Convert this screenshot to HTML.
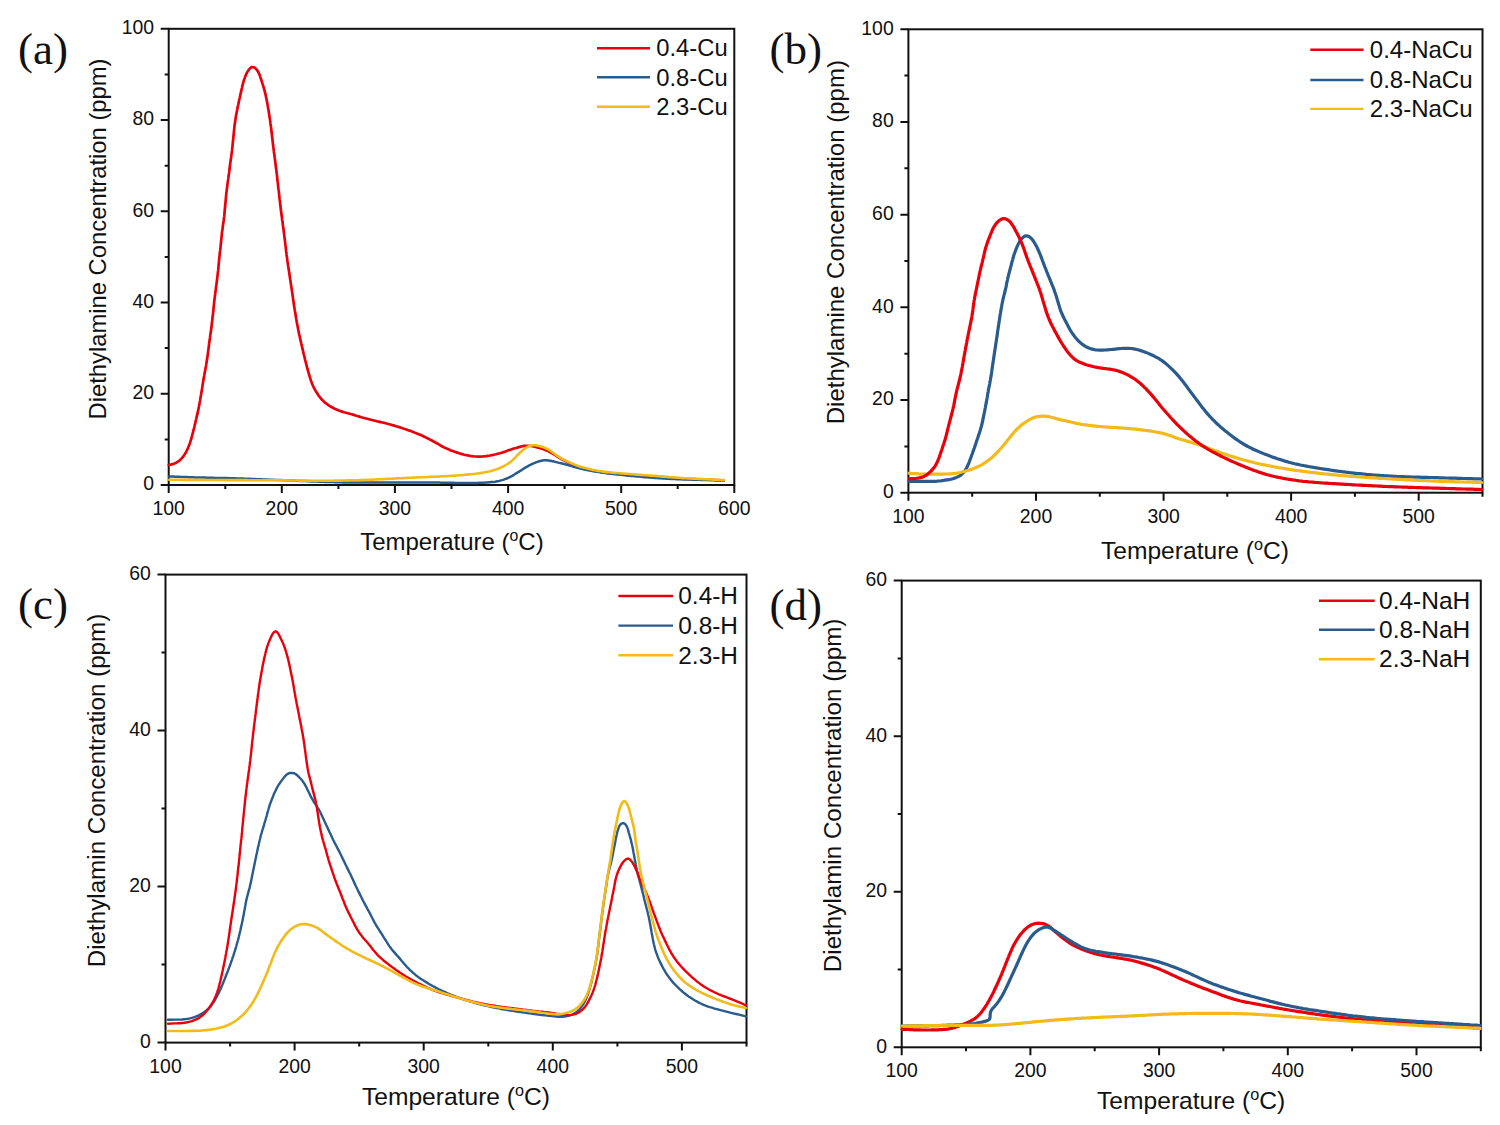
<!DOCTYPE html>
<html><head><meta charset="utf-8"><title>Diethylamine TPD</title>
<style>
html,body{margin:0;padding:0;background:#fff;}
body{width:1500px;height:1125px;overflow:hidden;font-family:"Liberation Sans",sans-serif;}
svg{display:block;}
</style></head>
<body>
<svg width="1500" height="1125" viewBox="0 0 1500 1125">
<rect width="1500" height="1125" fill="#fff"/>
<rect x="168.7" y="28.8" width="565.6" height="456.2" fill="none" stroke="#111111" stroke-width="2.0"/>
<path d="M168.7,485.0V493.0M225.3,485.0V489.0M281.8,485.0V493.0M338.4,485.0V489.0M394.9,485.0V493.0M451.5,485.0V489.0M508.1,485.0V493.0M564.6,485.0V489.0M621.2,485.0V493.0M677.7,485.0V489.0M734.3,485.0V493.0M168.7,485.0H160.7M168.7,439.4H164.7M168.7,393.8H160.7M168.7,348.1H164.7M168.7,302.5H160.7M168.7,256.9H164.7M168.7,211.3H160.7M168.7,165.7H164.7M168.7,120.0H160.7M168.7,74.4H164.7M168.7,28.8H160.7" stroke="#111111" stroke-width="2.0" fill="none"/>
<text x="168.7" y="515.0" font-family='"Liberation Sans", sans-serif' font-size="19.4" text-anchor="middle" fill="#111" >100</text>
<text x="281.8" y="515.0" font-family='"Liberation Sans", sans-serif' font-size="19.4" text-anchor="middle" fill="#111" >200</text>
<text x="394.9" y="515.0" font-family='"Liberation Sans", sans-serif' font-size="19.4" text-anchor="middle" fill="#111" >300</text>
<text x="508.1" y="515.0" font-family='"Liberation Sans", sans-serif' font-size="19.4" text-anchor="middle" fill="#111" >400</text>
<text x="621.2" y="515.0" font-family='"Liberation Sans", sans-serif' font-size="19.4" text-anchor="middle" fill="#111" >500</text>
<text x="734.3" y="515.0" font-family='"Liberation Sans", sans-serif' font-size="19.4" text-anchor="middle" fill="#111" >600</text>
<text x="154.0" y="490.3" font-family='"Liberation Sans", sans-serif' font-size="19.4" text-anchor="end" fill="#111" >0</text>
<text x="154.0" y="399.1" font-family='"Liberation Sans", sans-serif' font-size="19.4" text-anchor="end" fill="#111" >20</text>
<text x="154.0" y="307.8" font-family='"Liberation Sans", sans-serif' font-size="19.4" text-anchor="end" fill="#111" >40</text>
<text x="154.0" y="216.6" font-family='"Liberation Sans", sans-serif' font-size="19.4" text-anchor="end" fill="#111" >60</text>
<text x="154.0" y="125.3" font-family='"Liberation Sans", sans-serif' font-size="19.4" text-anchor="end" fill="#111" >80</text>
<text x="154.0" y="34.1" font-family='"Liberation Sans", sans-serif' font-size="19.4" text-anchor="end" fill="#111" >100</text>
<text x="18.0" y="64.2" font-family='"Liberation Serif", serif' font-size="45.0" text-anchor="start" fill="#111" >(a)</text>
<text x="0" y="0" transform="translate(106.3,239.0) rotate(-90)" font-family='"Liberation Sans", sans-serif' font-size="23.8" text-anchor="middle" fill="#111">Diethylamine Concentration (ppm)</text>
<text x="451.9" y="550.1" font-family='"Liberation Sans", sans-serif' font-size="24.0" text-anchor="middle" fill="#111" >Temperature (<tspan font-size="15.8" dy="-9">o</tspan><tspan dy="9">C)</tspan></text>
<path d="M597.0,48.2H650.0" stroke="#E8000B" stroke-width="2.4"/>
<text x="656.2" y="56.4" font-family='"Liberation Sans", sans-serif' font-size="23.8" text-anchor="start" fill="#111" >0.4-Cu</text>
<path d="M597.0,77.3H650.0" stroke="#2A5B8E" stroke-width="2.4"/>
<text x="656.2" y="85.5" font-family='"Liberation Sans", sans-serif' font-size="23.8" text-anchor="start" fill="#111" >0.8-Cu</text>
<path d="M597.0,106.7H650.0" stroke="#F2BA1A" stroke-width="2.4"/>
<text x="656.2" y="114.9" font-family='"Liberation Sans", sans-serif' font-size="23.8" text-anchor="start" fill="#111" >2.3-Cu</text>
<path d="M168.7,465.0L170.6,464.6L172.6,464.1L174.4,463.5L176.2,462.7L177.9,461.6L179.5,460.5L180.9,459.1L182.3,457.7L183.5,456.1L184.6,454.5L185.7,452.8L186.6,451.0L187.5,449.2L188.3,447.4L189.0,445.5L189.7,443.7L190.3,441.8L190.9,439.9L191.5,438.0L192.0,436.0L192.5,434.1L193.0,432.2L193.5,430.2L194.0,428.3L194.5,426.3L194.9,424.4L195.4,422.4L195.8,420.5L196.3,418.5L196.7,416.6L197.2,414.6L197.7,412.7L198.1,410.7L198.5,408.8L198.9,406.8L199.3,404.9L199.6,402.9L200.0,400.9L200.3,398.9L200.6,397.0L201.0,395.0L201.3,393.0L201.7,391.1L202.0,389.1L202.3,387.1L202.6,385.1L202.9,383.1L203.2,381.2L203.5,379.2L203.9,377.2L204.3,375.3L204.6,373.3L205.0,371.3L205.4,369.4L205.7,367.4L206.1,365.4L206.4,363.4L206.7,361.5L207.0,359.5L207.3,357.5L207.6,355.5L207.9,353.6L208.1,351.6L208.4,349.6L208.7,347.6L208.9,345.6L209.1,343.6L209.4,341.6L209.7,339.7L210.0,337.7L210.2,335.7L210.5,333.7L210.8,331.7L211.1,329.8L211.4,327.8L211.6,325.8L211.8,323.8L212.1,321.8L212.3,319.8L212.5,317.8L212.7,315.9L213.0,313.9L213.2,311.9L213.4,309.9L213.6,307.9L213.8,305.9L214.0,303.9L214.2,301.9L214.4,299.9L214.7,297.9L214.9,296.0L215.2,294.0L215.4,292.0L215.7,290.0L215.9,288.0L216.2,286.0L216.5,284.1L216.7,282.1L217.0,280.1L217.2,278.1L217.5,276.1L217.7,274.1L217.9,272.1L218.2,270.2L218.4,268.2L218.5,266.2L218.7,264.2L218.9,262.2L219.1,260.2L219.3,258.2L219.5,256.2L219.7,254.2L219.9,252.2L220.2,250.2L220.4,248.3L220.6,246.3L220.8,244.3L221.0,242.3L221.2,240.3L221.4,238.3L221.6,236.3L221.8,234.3L222.0,232.3L222.3,230.3L222.6,228.4L222.8,226.4L223.1,224.4L223.4,222.4L223.7,220.4L223.9,218.5L224.2,216.5L224.4,214.5L224.6,212.5L224.7,210.5L224.9,208.5L225.1,206.5L225.3,204.5L225.5,202.5L225.7,200.5L225.9,198.5L226.0,196.6L226.2,194.6L226.4,192.6L226.7,190.6L226.9,188.6L227.2,186.6L227.4,184.6L227.7,182.6L228.0,180.7L228.3,178.7L228.5,176.7L228.8,174.7L229.1,172.7L229.3,170.7L229.6,168.8L229.8,166.8L230.1,164.8L230.3,162.8L230.6,160.8L230.9,158.8L231.2,156.9L231.4,154.9L231.7,152.9L232.0,150.9L232.2,148.9L232.4,146.9L232.6,144.9L232.8,143.0L233.0,141.0L233.2,139.0L233.4,137.0L233.6,135.0L233.8,133.0L234.0,131.0L234.2,129.0L234.4,127.0L234.6,125.0L234.9,123.1L235.2,121.1L235.5,119.1L235.8,117.1L236.1,115.2L236.5,113.2L236.9,111.2L237.3,109.3L237.6,107.3L238.1,105.3L238.5,103.4L238.9,101.4L239.3,99.5L239.8,97.5L240.2,95.6L240.6,93.6L241.1,91.7L241.5,89.7L242.0,87.8L242.4,85.8L242.9,83.9L243.4,81.9L244.0,80.0L244.7,78.1L245.3,76.3L246.1,74.4L247.0,72.6L248.0,70.9L249.1,69.3L250.5,67.8L252.2,67.0L254.0,67.3L255.6,68.5L256.9,69.9L258.0,71.6L258.9,73.3L259.7,75.2L260.3,77.1L261.0,79.0L261.6,80.9L262.2,82.8L262.8,84.7L263.4,86.6L264.0,88.5L264.5,90.4L265.0,92.4L265.5,94.3L265.9,96.3L266.3,98.2L266.7,100.2L267.1,102.2L267.5,104.1L267.8,106.1L268.1,108.1L268.5,110.0L268.8,112.0L269.1,114.0L269.4,116.0L269.7,118.0L270.0,119.9L270.3,121.9L270.5,123.9L270.8,125.9L271.1,127.9L271.3,129.8L271.5,131.8L271.8,133.8L272.0,135.8L272.2,137.8L272.5,139.8L272.7,141.8L272.9,143.8L273.2,145.7L273.4,147.7L273.7,149.7L273.9,151.7L274.2,153.7L274.5,155.7L274.7,157.7L275.0,159.6L275.2,161.6L275.5,163.6L275.7,165.6L276.0,167.6L276.2,169.6L276.5,171.5L276.7,173.5L277.0,175.5L277.2,177.5L277.4,179.5L277.6,181.5L277.9,183.5L278.1,185.5L278.3,187.5L278.5,189.4L278.8,191.4L279.0,193.4L279.2,195.4L279.4,197.4L279.6,199.4L279.9,201.4L280.1,203.4L280.3,205.3L280.6,207.3L280.8,209.3L281.1,211.3L281.3,213.3L281.6,215.3L281.9,217.3L282.1,219.2L282.4,221.2L282.7,223.2L282.9,225.2L283.2,227.2L283.5,229.2L283.7,231.1L284.0,233.1L284.2,235.1L284.5,237.1L284.7,239.1L285.0,241.1L285.2,243.1L285.4,245.0L285.7,247.0L285.9,249.0L286.1,251.0L286.4,253.0L286.6,255.0L286.9,257.0L287.2,258.9L287.4,260.9L287.7,262.9L288.0,264.9L288.3,266.9L288.6,268.8L288.9,270.8L289.2,272.8L289.5,274.8L289.8,276.8L290.1,278.7L290.4,280.7L290.7,282.7L291.0,284.7L291.3,286.6L291.6,288.6L291.9,290.6L292.2,292.6L292.5,294.6L292.8,296.5L293.0,298.5L293.3,300.5L293.6,302.5L293.9,304.5L294.2,306.4L294.5,308.4L294.8,310.4L295.2,312.4L295.5,314.3L295.8,316.3L296.1,318.3L296.5,320.3L296.8,322.2L297.2,324.2L297.6,326.2L297.9,328.1L298.3,330.1L298.7,332.1L299.1,334.0L299.6,336.0L300.0,337.9L300.4,339.9L300.9,341.8L301.3,343.8L301.8,345.7L302.2,347.7L302.7,349.6L303.2,351.6L303.6,353.5L304.1,355.5L304.6,357.4L305.0,359.3L305.5,361.3L306.0,363.2L306.5,365.2L307.0,367.1L307.5,369.0L308.1,371.0L308.6,372.9L309.2,374.8L309.7,376.7L310.3,378.6L310.9,380.5L311.6,382.4L312.3,384.3L313.1,386.1L314.0,387.9L314.9,389.7L315.9,391.4L317.0,393.1L318.1,394.8L319.2,396.4L320.5,398.0L321.8,399.5L323.2,400.9L324.6,402.3L326.2,403.5L327.8,404.7L329.4,405.8L331.1,406.8L332.9,407.8L334.7,408.7L336.5,409.5L338.3,410.3L340.2,411.0L342.1,411.6L344.0,412.2L345.9,412.7L347.9,413.2L349.8,413.8L351.7,414.3L353.7,414.9L355.6,415.5L357.5,416.0L359.4,416.6L361.3,417.2L363.2,417.7L365.2,418.3L367.1,418.8L369.0,419.3L371.0,419.8L372.9,420.2L374.9,420.7L376.8,421.2L378.8,421.6L380.7,422.1L382.7,422.5L384.6,423.0L386.6,423.5L388.5,424.0L390.4,424.5L392.3,425.1L394.3,425.6L396.2,426.2L398.1,426.8L400.0,427.4L401.9,428.0L403.8,428.7L405.7,429.3L407.6,430.0L409.5,430.6L411.3,431.3L413.2,432.0L415.1,432.8L416.9,433.5L418.8,434.2L420.6,435.0L422.5,435.8L424.3,436.7L426.1,437.6L427.9,438.5L429.6,439.4L431.4,440.3L433.2,441.3L434.9,442.2L436.7,443.2L438.4,444.2L440.1,445.2L441.9,446.2L443.6,447.1L445.4,448.0L447.2,448.8L449.1,449.6L450.9,450.4L452.8,451.1L454.7,451.8L456.6,452.4L458.5,453.0L460.4,453.6L462.3,454.1L464.3,454.7L466.2,455.1L468.2,455.5L470.1,455.9L472.1,456.2L474.1,456.4L476.1,456.5L478.1,456.6L480.1,456.6L482.1,456.5L484.0,456.3L486.0,456.1L488.0,455.8L490.0,455.5L492.0,455.1L493.9,454.7L495.9,454.3L497.8,453.8L499.7,453.3L501.7,452.7L503.6,452.1L505.5,451.5L507.3,450.8L509.2,450.1L511.1,449.5L513.0,448.8L514.9,448.2L516.8,447.7L518.8,447.1L520.7,446.6L522.6,446.2L524.6,445.9L526.6,445.8L528.6,445.8L530.5,446.0L532.5,446.2L534.5,446.6L536.4,447.1L538.3,447.6L540.3,448.2L542.2,448.8L544.1,449.4L545.9,450.2L547.8,450.9L549.5,451.8L551.3,452.8L553.0,453.8L554.7,454.9L556.4,455.9L558.1,457.0L559.8,458.0L561.5,459.0L563.3,460.0L565.1,460.9L566.8,461.8L568.6,462.7L570.4,463.5L572.3,464.4L574.1,465.2L576.0,465.9L577.8,466.6L579.7,467.3L581.6,467.9L583.5,468.4L585.5,468.9L587.4,469.4L589.4,469.8L591.3,470.3L593.3,470.7L595.3,471.0L597.2,471.4L599.2,471.7L601.2,472.0L603.1,472.4L605.1,472.6L607.1,472.9L609.1,473.2L611.1,473.4L613.1,473.6L615.1,473.8L617.1,474.0L619.0,474.2L621.0,474.3L623.0,474.5L625.0,474.7L627.0,474.8L629.0,475.0L631.0,475.1L633.0,475.3L635.0,475.4L637.0,475.5L639.0,475.7L641.0,475.8L643.0,475.9L645.0,476.1L647.0,476.2L649.0,476.3L651.0,476.4L653.0,476.6L655.0,476.7L657.0,476.9L659.0,477.0L661.0,477.1L663.0,477.3L665.0,477.4L667.0,477.6L668.9,477.7L670.9,477.8L672.9,478.0L674.9,478.1L676.9,478.2L678.9,478.4L680.9,478.5L682.9,478.6L684.9,478.7L686.9,478.8L688.9,478.9L690.9,479.0L692.9,479.1L694.9,479.2L696.9,479.3L698.9,479.4L700.9,479.5L702.9,479.6L704.9,479.7L706.9,479.7L708.9,479.8L710.9,479.9L712.9,480.0L714.9,480.1L716.9,480.2L718.9,480.3L720.9,480.4L722.9,480.5L723.9,480.5" fill="none" stroke="#E8000B" stroke-width="2.7" stroke-linejoin="round" stroke-linecap="round"/>
<path d="M169.0,476.5L171.0,476.6L173.0,476.6L175.0,476.7L177.0,476.8L179.0,476.8L181.0,476.9L183.0,477.0L185.0,477.0L187.0,477.1L189.0,477.2L191.0,477.2L193.0,477.3L195.0,477.4L197.0,477.4L199.0,477.5L201.0,477.5L203.0,477.6L205.0,477.6L207.0,477.7L209.0,477.7L211.0,477.8L213.0,477.8L215.0,477.9L217.1,477.9L219.1,477.9L221.1,478.0L223.1,478.0L225.1,478.1L227.1,478.1L229.1,478.2L231.1,478.2L233.1,478.3L235.1,478.3L237.1,478.4L239.1,478.5L241.1,478.5L243.1,478.6L245.1,478.7L247.1,478.8L249.1,478.8L251.1,478.9L253.1,479.0L255.1,479.1L257.1,479.2L259.1,479.2L261.1,479.3L263.1,479.4L265.1,479.5L267.1,479.6L269.1,479.7L271.1,479.7L273.1,479.8L275.1,479.9L277.1,480.0L279.1,480.1L281.1,480.1L283.1,480.2L285.1,480.3L287.1,480.4L289.1,480.5L291.1,480.5L293.1,480.6L295.1,480.7L297.1,480.8L299.1,480.9L301.1,481.0L303.1,481.0L305.1,481.1L307.1,481.2L309.1,481.3L311.1,481.4L313.1,481.5L315.1,481.5L317.1,481.6L319.1,481.7L321.1,481.8L323.1,481.8L325.1,481.9L327.1,482.0L329.1,482.0L331.1,482.1L333.1,482.1L335.1,482.2L337.2,482.2L339.2,482.3L341.2,482.3L343.2,482.4L345.2,482.4L347.2,482.4L349.2,482.4L351.2,482.5L353.2,482.5L355.2,482.5L357.2,482.5L359.2,482.5L361.2,482.5L363.2,482.6L365.2,482.6L367.2,482.6L369.2,482.6L371.2,482.6L373.2,482.6L375.2,482.6L377.2,482.6L379.2,482.6L381.2,482.6L383.2,482.6L385.2,482.6L387.2,482.6L389.2,482.6L391.2,482.6L393.2,482.6L395.2,482.6L397.2,482.6L399.2,482.6L401.2,482.6L403.2,482.5L405.3,482.5L407.3,482.5L409.3,482.5L411.3,482.5L413.3,482.5L415.3,482.5L417.3,482.5L419.3,482.5L421.3,482.5L423.3,482.5L425.3,482.5L427.3,482.5L429.3,482.5L431.3,482.6L433.3,482.6L435.3,482.6L437.3,482.6L439.3,482.6L441.3,482.7L443.3,482.7L445.3,482.7L447.3,482.8L449.3,482.8L451.3,482.8L453.3,482.8L455.3,482.9L457.3,482.9L459.3,482.9L461.3,482.9L463.3,482.9L465.3,482.9L467.3,482.9L469.3,482.9L471.3,482.9L473.3,482.9L475.4,482.9L477.4,482.9L479.4,482.8L481.4,482.8L483.4,482.7L485.4,482.6L487.4,482.5L489.4,482.3L491.4,482.1L493.3,481.9L495.3,481.7L497.3,481.3L499.3,480.9L501.2,480.4L503.1,479.9L505.0,479.2L506.8,478.5L508.7,477.7L510.4,476.8L512.2,475.8L513.9,474.8L515.6,473.7L517.3,472.7L519.0,471.6L520.7,470.6L522.4,469.5L524.1,468.4L525.8,467.4L527.6,466.4L529.3,465.4L531.1,464.5L532.9,463.7L534.8,462.9L536.6,462.1L538.5,461.5L540.4,460.9L542.4,460.5L544.4,460.3L546.4,460.3L548.4,460.5L550.3,460.8L552.3,461.2L554.3,461.6L556.2,462.1L558.2,462.6L560.1,463.0L562.0,463.5L564.0,464.0L565.9,464.5L567.9,465.0L569.8,465.6L571.7,466.1L573.6,466.7L575.6,467.2L577.5,467.8L579.4,468.3L581.4,468.8L583.3,469.3L585.3,469.7L587.2,470.1L589.2,470.5L591.2,470.8L593.1,471.2L595.1,471.5L597.1,471.8L599.1,472.1L601.1,472.4L603.0,472.6L605.0,472.9L607.0,473.2L609.0,473.4L611.0,473.7L613.0,473.9L615.0,474.1L617.0,474.4L619.0,474.6L620.9,474.8L622.9,475.0L624.9,475.2L626.9,475.5L628.9,475.7L630.9,475.9L632.9,476.1L634.9,476.3L636.9,476.5L638.9,476.6L640.9,476.8L642.9,477.0L644.9,477.2L646.9,477.3L648.9,477.5L650.9,477.6L652.9,477.8L654.8,477.9L656.8,478.1L658.8,478.2L660.8,478.3L662.8,478.5L664.8,478.6L666.8,478.7L668.8,478.8L670.8,478.9L672.8,479.0L674.8,479.1L676.8,479.2L678.8,479.2L680.8,479.3L682.9,479.4L684.9,479.4L686.9,479.5L688.9,479.6L690.9,479.6L692.9,479.7L694.9,479.7L696.9,479.8L698.9,479.8L700.9,479.9L702.9,479.9L704.9,479.9L706.9,480.0L708.9,480.0L710.9,480.1L712.9,480.1L714.9,480.2L716.9,480.2L718.9,480.3L720.9,480.3L722.9,480.4L723.9,480.4" fill="none" stroke="#2A5B8E" stroke-width="2.5" stroke-linejoin="round" stroke-linecap="round"/>
<path d="M169.0,479.8L171.0,479.8L173.0,479.8L175.0,479.8L177.0,479.8L179.0,479.8L181.0,479.9L183.0,479.9L185.0,479.9L187.0,479.9L189.0,479.9L191.0,479.9L193.0,479.9L195.0,479.9L197.0,479.9L199.0,479.9L201.0,479.9L203.1,480.0L205.1,480.0L207.1,480.0L209.1,480.0L211.1,480.0L213.1,480.0L215.1,480.0L217.1,480.0L219.1,480.0L221.1,480.0L223.1,480.0L225.1,480.1L227.1,480.1L229.1,480.1L231.1,480.1L233.1,480.1L235.1,480.1L237.1,480.1L239.1,480.1L241.1,480.1L243.1,480.1L245.1,480.1L247.1,480.1L249.1,480.2L251.1,480.2L253.1,480.2L255.1,480.2L257.1,480.2L259.1,480.2L261.1,480.2L263.1,480.2L265.1,480.2L267.1,480.2L269.2,480.3L271.2,480.3L273.2,480.3L275.2,480.3L277.2,480.3L279.2,480.3L281.2,480.4L283.2,480.4L285.2,480.4L287.2,480.4L289.2,480.5L291.2,480.5L293.2,480.5L295.2,480.5L297.2,480.5L299.2,480.6L301.2,480.6L303.2,480.6L305.2,480.6L307.2,480.6L309.2,480.6L311.2,480.7L313.2,480.7L315.2,480.7L317.2,480.7L319.2,480.7L321.2,480.7L323.2,480.7L325.2,480.7L327.2,480.7L329.2,480.7L331.2,480.7L333.2,480.7L335.3,480.6L337.3,480.6L339.3,480.6L341.3,480.6L343.3,480.5L345.3,480.5L347.3,480.4L349.3,480.4L351.3,480.3L353.3,480.3L355.3,480.2L357.3,480.2L359.3,480.1L361.3,480.0L363.3,480.0L365.3,479.9L367.3,479.8L369.3,479.7L371.3,479.7L373.3,479.6L375.3,479.5L377.3,479.4L379.3,479.3L381.3,479.2L383.3,479.1L385.3,479.0L387.3,478.9L389.3,478.8L391.3,478.7L393.3,478.6L395.3,478.5L397.3,478.4L399.3,478.3L401.3,478.2L403.3,478.1L405.3,478.0L407.3,477.9L409.3,477.8L411.3,477.7L413.3,477.6L415.3,477.5L417.3,477.4L419.3,477.3L421.3,477.2L423.3,477.2L425.3,477.1L427.3,477.0L429.3,476.9L431.3,476.8L433.3,476.7L435.3,476.7L437.3,476.6L439.3,476.5L441.3,476.4L443.3,476.3L445.3,476.2L447.3,476.1L449.3,476.0L451.3,475.9L453.3,475.8L455.3,475.6L457.3,475.5L459.3,475.3L461.3,475.2L463.3,475.0L465.3,474.8L467.3,474.6L469.3,474.4L471.3,474.2L473.3,474.0L475.3,473.8L477.3,473.5L479.2,473.2L481.2,472.9L483.2,472.6L485.2,472.2L487.1,471.8L489.1,471.4L491.0,470.9L492.9,470.4L494.9,469.8L496.7,469.2L498.6,468.5L500.5,467.7L502.3,466.9L504.1,466.0L505.8,465.0L507.5,464.0L509.2,462.9L510.8,461.7L512.3,460.4L513.7,459.0L515.2,457.6L516.5,456.1L517.9,454.7L519.3,453.3L520.8,451.9L522.3,450.6L523.8,449.3L525.4,448.1L527.1,447.1L528.9,446.2L530.8,445.6L532.8,445.3L534.8,445.3L536.8,445.5L538.7,445.9L540.7,446.4L542.6,447.0L544.4,447.7L546.3,448.5L548.1,449.4L549.8,450.4L551.4,451.5L553.1,452.7L554.7,453.9L556.3,455.1L557.9,456.2L559.6,457.3L561.3,458.3L563.1,459.3L564.9,460.2L566.7,461.1L568.5,462.0L570.3,462.8L572.1,463.6L574.0,464.4L575.8,465.1L577.7,465.8L579.6,466.4L581.5,467.0L583.4,467.6L585.4,468.1L587.3,468.6L589.3,469.1L591.2,469.5L593.2,469.9L595.1,470.3L597.1,470.7L599.1,471.0L601.1,471.3L603.0,471.6L605.0,471.9L607.0,472.1L609.0,472.3L611.0,472.5L613.0,472.7L615.0,472.9L617.0,473.0L619.0,473.2L621.0,473.4L623.0,473.5L625.0,473.7L627.0,473.8L629.0,474.0L631.0,474.2L633.0,474.3L635.0,474.5L636.9,474.6L638.9,474.7L640.9,474.9L642.9,475.0L644.9,475.2L646.9,475.3L648.9,475.5L650.9,475.6L652.9,475.8L654.9,475.9L656.9,476.1L658.9,476.3L660.9,476.4L662.9,476.6L664.9,476.8L666.9,476.9L668.9,477.1L670.9,477.2L672.9,477.4L674.9,477.5L676.9,477.7L678.9,477.8L680.9,478.0L682.9,478.1L684.9,478.2L686.9,478.3L688.9,478.4L690.9,478.5L692.9,478.6L694.9,478.7L696.9,478.8L698.9,478.9L700.9,479.0L702.9,479.1L704.9,479.2L706.9,479.3L708.9,479.4L710.9,479.5L712.9,479.6L714.9,479.7L716.9,479.8L718.9,479.9L720.9,480.0L722.9,480.1L723.9,480.1" fill="none" stroke="#F2BA1A" stroke-width="2.6" stroke-linejoin="round" stroke-linecap="round"/>
<rect x="908.4" y="29.3" width="574.1" height="463.4" fill="none" stroke="#111111" stroke-width="2.0"/>
<path d="M908.4,492.7V500.7M972.2,492.7V496.7M1036.0,492.7V500.7M1099.8,492.7V496.7M1163.6,492.7V500.7M1227.3,492.7V496.7M1291.1,492.7V500.7M1354.9,492.7V496.7M1418.7,492.7V500.7M1482.5,492.7V496.7M908.4,492.7H900.4M908.4,446.4H904.4M908.4,400.0H900.4M908.4,353.7H904.4M908.4,307.3H900.4M908.4,261.0H904.4M908.4,214.7H900.4M908.4,168.3H904.4M908.4,122.0H900.4M908.4,75.6H904.4M908.4,29.3H900.4" stroke="#111111" stroke-width="2.0" fill="none"/>
<text x="908.4" y="522.7" font-family='"Liberation Sans", sans-serif' font-size="19.4" text-anchor="middle" fill="#111" >100</text>
<text x="1036.0" y="522.7" font-family='"Liberation Sans", sans-serif' font-size="19.4" text-anchor="middle" fill="#111" >200</text>
<text x="1163.6" y="522.7" font-family='"Liberation Sans", sans-serif' font-size="19.4" text-anchor="middle" fill="#111" >300</text>
<text x="1291.1" y="522.7" font-family='"Liberation Sans", sans-serif' font-size="19.4" text-anchor="middle" fill="#111" >400</text>
<text x="1418.7" y="522.7" font-family='"Liberation Sans", sans-serif' font-size="19.4" text-anchor="middle" fill="#111" >500</text>
<text x="893.7" y="498.0" font-family='"Liberation Sans", sans-serif' font-size="19.4" text-anchor="end" fill="#111" >0</text>
<text x="893.7" y="405.3" font-family='"Liberation Sans", sans-serif' font-size="19.4" text-anchor="end" fill="#111" >20</text>
<text x="893.7" y="312.6" font-family='"Liberation Sans", sans-serif' font-size="19.4" text-anchor="end" fill="#111" >40</text>
<text x="893.7" y="220.0" font-family='"Liberation Sans", sans-serif' font-size="19.4" text-anchor="end" fill="#111" >60</text>
<text x="893.7" y="127.3" font-family='"Liberation Sans", sans-serif' font-size="19.4" text-anchor="end" fill="#111" >80</text>
<text x="893.7" y="34.6" font-family='"Liberation Sans", sans-serif' font-size="19.4" text-anchor="end" fill="#111" >100</text>
<text x="769.5" y="64.2" font-family='"Liberation Serif", serif' font-size="45.0" text-anchor="start" fill="#111" >(b)</text>
<text x="0" y="0" transform="translate(843.8,242.2) rotate(-90)" font-family='"Liberation Sans", sans-serif' font-size="24.0" text-anchor="middle" fill="#111">Diethylamine Concentration (ppm)</text>
<text x="1195.0" y="558.6" font-family='"Liberation Sans", sans-serif' font-size="24.6" text-anchor="middle" fill="#111" >Temperature (<tspan font-size="16.2" dy="-9">o</tspan><tspan dy="9">C)</tspan></text>
<path d="M1310.3,49.7H1363.5" stroke="#E8000B" stroke-width="2.4"/>
<text x="1369.8" y="57.9" font-family='"Liberation Sans", sans-serif' font-size="24.0" text-anchor="start" fill="#111" >0.4-NaCu</text>
<path d="M1310.3,80.0H1363.5" stroke="#2A5B8E" stroke-width="2.4"/>
<text x="1369.8" y="88.2" font-family='"Liberation Sans", sans-serif' font-size="24.0" text-anchor="start" fill="#111" >0.8-NaCu</text>
<path d="M1310.3,108.9H1363.5" stroke="#F2BA1A" stroke-width="2.4"/>
<text x="1369.8" y="117.1" font-family='"Liberation Sans", sans-serif' font-size="24.0" text-anchor="start" fill="#111" >2.3-NaCu</text>
<path d="M909.0,481.3L911.0,481.3L913.0,481.3L915.0,481.3L917.0,481.3L919.0,481.3L921.0,481.3L923.0,481.3L925.0,481.3L927.0,481.4L929.0,481.4L931.0,481.4L933.0,481.4L935.0,481.3L937.0,481.2L939.0,481.0L941.0,480.8L942.9,480.5L944.9,480.2L946.9,479.9L948.9,479.6L950.8,479.2L952.8,478.7L954.7,478.1L956.5,477.4L958.3,476.6L960.0,475.6L961.6,474.4L963.0,473.1L964.2,471.6L965.4,470.0L966.4,468.3L967.3,466.5L968.1,464.7L968.9,462.8L969.6,461.0L970.3,459.1L971.0,457.2L971.7,455.3L972.4,453.5L973.0,451.6L973.7,449.7L974.4,447.8L975.0,445.9L975.7,444.0L976.3,442.1L976.9,440.2L977.6,438.3L978.2,436.4L978.8,434.5L979.5,432.6L980.1,430.7L980.6,428.8L981.2,426.9L981.7,425.0L982.2,423.0L982.6,421.1L983.0,419.1L983.4,417.1L983.8,415.2L984.2,413.2L984.6,411.3L985.0,409.3L985.4,407.3L985.7,405.4L986.1,403.4L986.5,401.4L986.8,399.5L987.2,397.5L987.5,395.5L987.8,393.6L988.2,391.6L988.5,389.6L988.9,387.7L989.3,385.7L989.7,383.7L990.0,381.8L990.4,379.8L990.7,377.8L991.1,375.9L991.4,373.9L991.7,371.9L991.9,369.9L992.2,367.9L992.5,366.0L992.8,364.0L993.1,362.0L993.4,360.0L993.7,358.0L994.0,356.1L994.3,354.1L994.6,352.1L994.9,350.1L995.2,348.2L995.5,346.2L995.8,344.2L996.1,342.2L996.4,340.2L996.7,338.3L997.0,336.3L997.3,334.3L997.5,332.3L997.8,330.4L998.1,328.4L998.4,326.4L998.7,324.4L999.0,322.4L999.3,320.5L999.6,318.5L999.9,316.5L1000.2,314.5L1000.6,312.6L1000.9,310.6L1001.2,308.6L1001.6,306.6L1001.9,304.7L1002.3,302.7L1002.7,300.8L1003.1,298.8L1003.6,296.9L1004.1,294.9L1004.6,293.0L1005.1,291.0L1005.5,289.1L1006.0,287.1L1006.4,285.2L1006.7,283.2L1007.1,281.3L1007.6,279.3L1008.0,277.4L1008.5,275.4L1009.0,273.5L1009.5,271.5L1010.0,269.6L1010.5,267.7L1011.0,265.8L1011.5,263.8L1012.0,261.9L1012.6,259.9L1013.1,258.0L1013.6,256.1L1014.2,254.2L1014.9,252.3L1015.6,250.4L1016.3,248.6L1017.1,246.7L1017.9,244.9L1018.8,243.1L1019.7,241.4L1020.8,239.7L1022.1,238.2L1023.6,236.9L1025.3,235.9L1027.2,235.9L1029.0,236.6L1030.6,237.8L1032.0,239.2L1033.2,240.8L1034.3,242.5L1035.3,244.2L1036.3,245.9L1037.2,247.7L1038.0,249.5L1038.8,251.4L1039.6,253.2L1040.4,255.1L1041.1,256.9L1041.8,258.8L1042.5,260.7L1043.2,262.5L1043.9,264.4L1044.6,266.3L1045.4,268.1L1046.1,270.0L1046.8,271.9L1047.6,273.7L1048.3,275.6L1049.1,277.4L1049.9,279.3L1050.6,281.1L1051.4,283.0L1052.1,284.8L1052.9,286.7L1053.6,288.5L1054.3,290.4L1054.9,292.3L1055.6,294.2L1056.2,296.1L1056.8,298.0L1057.4,299.9L1057.9,301.8L1058.5,303.8L1059.1,305.7L1059.6,307.6L1060.3,309.5L1060.9,311.4L1061.7,313.2L1062.5,315.0L1063.3,316.8L1064.2,318.6L1065.1,320.4L1066.1,322.2L1067.0,324.0L1067.9,325.8L1068.8,327.5L1069.8,329.3L1070.8,331.0L1071.9,332.7L1073.0,334.3L1074.2,335.9L1075.4,337.5L1076.7,339.0L1078.0,340.5L1079.5,341.9L1081.0,343.2L1082.5,344.4L1084.2,345.6L1085.9,346.6L1087.6,347.5L1089.5,348.3L1091.3,348.9L1093.2,349.4L1095.2,349.8L1097.2,350.0L1099.2,350.1L1101.1,350.2L1103.1,350.1L1105.1,350.0L1107.1,349.8L1109.1,349.7L1111.1,349.5L1113.1,349.3L1115.1,349.1L1117.1,348.9L1119.1,348.7L1121.1,348.5L1123.1,348.4L1125.1,348.3L1127.0,348.3L1129.0,348.3L1131.0,348.5L1133.0,348.7L1135.0,349.1L1136.9,349.5L1138.8,350.0L1140.8,350.6L1142.7,351.2L1144.5,351.9L1146.4,352.6L1148.3,353.4L1150.1,354.2L1151.9,355.0L1153.7,355.8L1155.5,356.8L1157.2,357.7L1159.0,358.7L1160.7,359.8L1162.3,360.9L1163.9,362.1L1165.5,363.3L1167.0,364.6L1168.5,365.9L1170.0,367.3L1171.4,368.6L1172.9,370.1L1174.3,371.5L1175.6,372.9L1177.0,374.4L1178.3,375.9L1179.6,377.4L1180.9,379.0L1182.1,380.5L1183.4,382.1L1184.6,383.7L1185.8,385.3L1187.0,386.9L1188.1,388.5L1189.3,390.1L1190.5,391.7L1191.7,393.3L1192.9,394.9L1194.1,396.5L1195.3,398.1L1196.5,399.7L1197.7,401.3L1198.9,402.9L1200.1,404.5L1201.3,406.1L1202.5,407.7L1203.8,409.3L1205.0,410.8L1206.3,412.4L1207.6,413.9L1208.9,415.4L1210.3,416.9L1211.7,418.3L1213.1,419.8L1214.5,421.2L1215.9,422.6L1217.3,424.0L1218.8,425.3L1220.3,426.7L1221.8,428.0L1223.3,429.3L1224.8,430.6L1226.4,431.8L1228.0,433.1L1229.5,434.3L1231.1,435.5L1232.7,436.7L1234.3,437.9L1235.9,439.1L1237.6,440.2L1239.2,441.3L1240.9,442.4L1242.6,443.5L1244.3,444.5L1246.1,445.5L1247.8,446.5L1249.6,447.4L1251.4,448.3L1253.2,449.2L1255.0,450.0L1256.8,450.8L1258.7,451.6L1260.5,452.4L1262.4,453.1L1264.2,453.9L1266.1,454.6L1267.9,455.3L1269.8,456.0L1271.7,456.7L1273.6,457.4L1275.5,458.0L1277.4,458.7L1279.3,459.3L1281.2,459.9L1283.1,460.5L1285.0,461.1L1286.9,461.6L1288.8,462.2L1290.8,462.7L1292.7,463.2L1294.7,463.7L1296.6,464.1L1298.5,464.5L1300.5,465.0L1302.5,465.3L1304.4,465.7L1306.4,466.1L1308.4,466.5L1310.3,466.8L1312.3,467.2L1314.3,467.5L1316.2,467.8L1318.2,468.2L1320.2,468.5L1322.2,468.8L1324.1,469.1L1326.1,469.4L1328.1,469.7L1330.1,470.0L1332.1,470.3L1334.0,470.6L1336.0,470.9L1338.0,471.2L1340.0,471.4L1342.0,471.7L1343.9,471.9L1345.9,472.2L1347.9,472.4L1349.9,472.7L1351.9,472.9L1353.9,473.1L1355.9,473.3L1357.8,473.5L1359.8,473.7L1361.8,473.9L1363.8,474.1L1365.8,474.3L1367.8,474.5L1369.8,474.6L1371.8,474.8L1373.8,475.0L1375.8,475.1L1377.8,475.3L1379.8,475.4L1381.8,475.5L1383.8,475.7L1385.8,475.8L1387.8,475.9L1389.7,476.1L1391.7,476.2L1393.7,476.3L1395.7,476.4L1397.7,476.5L1399.7,476.6L1401.7,476.7L1403.7,476.7L1405.7,476.8L1407.7,476.9L1409.7,476.9L1411.7,477.0L1413.7,477.1L1415.7,477.1L1417.7,477.2L1419.7,477.2L1421.7,477.3L1423.7,477.3L1425.7,477.4L1427.7,477.4L1429.7,477.5L1431.7,477.5L1433.7,477.6L1435.7,477.7L1437.7,477.7L1439.7,477.8L1441.7,477.8L1443.7,477.9L1445.7,478.0L1447.7,478.0L1449.7,478.1L1451.7,478.1L1453.7,478.2L1455.7,478.2L1457.7,478.3L1459.7,478.4L1461.7,478.4L1463.7,478.5L1465.7,478.5L1467.7,478.6L1469.7,478.7L1471.7,478.7L1473.7,478.8L1475.7,478.8L1477.7,478.9L1479.7,478.9L1481.7,479.0" fill="none" stroke="#2A5B8E" stroke-width="3.2" stroke-linejoin="round" stroke-linecap="round"/>
<path d="M909.0,473.2L911.0,473.3L913.0,473.5L915.0,473.6L917.0,473.7L919.0,473.9L921.0,474.0L923.0,474.0L925.0,474.1L927.0,474.2L929.0,474.2L931.0,474.2L933.0,474.2L935.0,474.2L937.0,474.2L939.0,474.2L941.0,474.1L943.0,474.1L945.0,474.0L947.0,474.0L949.0,473.9L951.0,473.8L953.0,473.6L955.0,473.4L957.0,473.1L958.9,472.7L960.9,472.2L962.8,471.8L964.8,471.3L966.7,470.7L968.6,470.2L970.5,469.6L972.4,469.0L974.3,468.3L976.1,467.5L978.0,466.7L979.7,465.8L981.5,464.8L983.2,463.8L984.9,462.8L986.6,461.6L988.2,460.5L989.8,459.2L991.3,458.0L992.8,456.6L994.3,455.3L995.7,453.9L997.1,452.4L998.5,451.0L999.8,449.5L1001.2,448.0L1002.5,446.5L1003.8,445.0L1005.1,443.4L1006.3,441.9L1007.5,440.3L1008.8,438.7L1010.0,437.2L1011.3,435.6L1012.6,434.1L1013.8,432.5L1015.2,431.0L1016.6,429.6L1018.0,428.2L1019.5,426.8L1021.0,425.5L1022.5,424.3L1024.1,423.1L1025.8,422.0L1027.5,420.9L1029.2,419.8L1030.9,418.9L1032.7,418.0L1034.6,417.4L1036.5,416.8L1038.5,416.5L1040.5,416.3L1042.5,416.2L1044.5,416.2L1046.5,416.4L1048.5,416.7L1050.4,417.0L1052.4,417.5L1054.3,418.0L1056.2,418.6L1058.2,419.1L1060.1,419.6L1062.1,420.1L1064.0,420.5L1066.0,420.9L1067.9,421.4L1069.9,421.8L1071.8,422.3L1073.8,422.7L1075.7,423.2L1077.7,423.6L1079.6,424.0L1081.6,424.4L1083.6,424.7L1085.6,424.9L1087.6,425.2L1089.5,425.4L1091.5,425.7L1093.5,425.9L1095.5,426.1L1097.5,426.3L1099.5,426.5L1101.5,426.6L1103.5,426.8L1105.5,427.0L1107.5,427.1L1109.5,427.2L1111.5,427.4L1113.5,427.5L1115.5,427.6L1117.5,427.7L1119.5,427.8L1121.5,428.0L1123.5,428.1L1125.5,428.3L1127.5,428.4L1129.5,428.6L1131.5,428.8L1133.5,429.0L1135.4,429.2L1137.4,429.4L1139.4,429.6L1141.4,429.9L1143.4,430.1L1145.4,430.4L1147.4,430.6L1149.4,430.9L1151.3,431.2L1153.3,431.5L1155.3,431.8L1157.3,432.2L1159.2,432.6L1161.2,433.0L1163.1,433.4L1165.1,434.0L1167.0,434.6L1168.9,435.2L1170.8,435.8L1172.6,436.5L1174.5,437.2L1176.4,437.9L1178.3,438.5L1180.2,439.2L1182.1,439.7L1184.0,440.3L1186.0,440.9L1187.9,441.4L1189.8,442.0L1191.7,442.6L1193.6,443.1L1195.6,443.7L1197.5,444.3L1199.4,444.9L1201.3,445.6L1203.2,446.2L1205.0,446.9L1206.9,447.6L1208.8,448.3L1210.7,449.0L1212.5,449.7L1214.4,450.5L1216.3,451.1L1218.2,451.8L1220.1,452.5L1221.9,453.2L1223.8,453.8L1225.7,454.4L1227.6,455.1L1229.6,455.7L1231.5,456.3L1233.4,456.9L1235.3,457.5L1237.2,458.0L1239.1,458.6L1241.0,459.2L1243.0,459.7L1244.9,460.3L1246.8,460.8L1248.8,461.3L1250.7,461.8L1252.6,462.3L1254.6,462.8L1256.5,463.2L1258.5,463.7L1260.5,464.1L1262.4,464.5L1264.4,464.9L1266.3,465.3L1268.3,465.7L1270.3,466.0L1272.2,466.4L1274.2,466.8L1276.2,467.1L1278.2,467.5L1280.1,467.8L1282.1,468.2L1284.1,468.5L1286.1,468.8L1288.0,469.1L1290.0,469.5L1292.0,469.8L1294.0,470.1L1295.9,470.4L1297.9,470.6L1299.9,470.9L1301.9,471.2L1303.9,471.5L1305.9,471.7L1307.9,472.0L1309.8,472.2L1311.8,472.5L1313.8,472.7L1315.8,472.9L1317.8,473.1L1319.8,473.4L1321.8,473.6L1323.8,473.8L1325.8,474.0L1327.8,474.2L1329.7,474.4L1331.7,474.6L1333.7,474.8L1335.7,474.9L1337.7,475.1L1339.7,475.3L1341.7,475.5L1343.7,475.7L1345.7,475.8L1347.7,476.0L1349.7,476.2L1351.7,476.3L1353.7,476.5L1355.7,476.6L1357.7,476.8L1359.7,476.9L1361.7,477.1L1363.7,477.2L1365.7,477.4L1367.7,477.5L1369.7,477.6L1371.7,477.8L1373.7,477.9L1375.7,478.0L1377.7,478.1L1379.7,478.3L1381.7,478.4L1383.7,478.5L1385.7,478.6L1387.7,478.7L1389.7,478.9L1391.7,479.0L1393.7,479.1L1395.7,479.2L1397.7,479.3L1399.7,479.4L1401.7,479.5L1403.7,479.7L1405.7,479.8L1407.7,479.9L1409.7,480.0L1411.7,480.1L1413.7,480.2L1415.7,480.3L1417.7,480.4L1419.7,480.5L1421.7,480.6L1423.7,480.7L1425.7,480.7L1427.7,480.8L1429.7,480.9L1431.7,481.0L1433.7,481.1L1435.7,481.2L1437.7,481.2L1439.7,481.3L1441.7,481.4L1443.7,481.4L1445.7,481.5L1447.7,481.6L1449.7,481.6L1451.7,481.7L1453.7,481.7L1455.7,481.8L1457.7,481.9L1459.7,481.9L1461.7,482.0L1463.7,482.0L1465.7,482.1L1467.7,482.1L1469.7,482.2L1471.7,482.2L1473.7,482.3L1475.7,482.3L1477.7,482.4L1479.7,482.4L1481.7,482.5" fill="none" stroke="#F2BA1A" stroke-width="3.2" stroke-linejoin="round" stroke-linecap="round"/>
<path d="M909.6,478.8L911.6,478.7L913.6,478.6L915.6,478.5L917.6,478.2L919.5,477.9L921.4,477.4L923.3,476.7L925.0,475.9L926.7,474.8L928.3,473.6L929.8,472.3L931.2,470.9L932.5,469.4L933.8,467.9L934.9,466.3L936.0,464.6L936.9,462.8L937.7,461.0L938.5,459.1L939.2,457.3L939.8,455.4L940.5,453.5L941.1,451.6L941.8,449.7L942.4,447.8L943.0,445.9L943.7,444.0L944.3,442.1L944.9,440.2L945.5,438.3L946.0,436.4L946.5,434.4L947.0,432.5L947.4,430.5L947.9,428.6L948.4,426.6L948.9,424.7L949.4,422.8L949.9,420.8L950.4,418.9L950.9,417.0L951.4,415.0L951.9,413.1L952.4,411.2L952.9,409.2L953.3,407.3L953.8,405.3L954.2,403.4L954.5,401.4L954.9,399.4L955.3,397.5L955.7,395.5L956.1,393.5L956.5,391.6L957.0,389.6L957.5,387.7L958.0,385.8L958.5,383.8L959.0,381.9L959.5,380.0L960.0,378.0L960.4,376.1L960.9,374.1L961.2,372.2L961.6,370.2L962.0,368.2L962.4,366.3L962.7,364.3L963.1,362.3L963.4,360.4L963.8,358.4L964.1,356.4L964.5,354.4L964.8,352.5L965.2,350.5L965.5,348.5L965.9,346.6L966.3,344.6L966.7,342.6L967.0,340.7L967.4,338.7L967.8,336.8L968.2,334.8L968.6,332.8L969.0,330.9L969.4,328.9L969.8,327.0L970.2,325.0L970.6,323.0L971.0,321.1L971.4,319.1L971.8,317.1L972.1,315.2L972.4,313.2L972.7,311.2L973.0,309.2L973.2,307.2L973.5,305.3L973.8,303.3L974.0,301.3L974.4,299.3L974.7,297.4L975.1,295.4L975.5,293.4L975.9,291.5L976.3,289.5L976.7,287.5L977.1,285.6L977.5,283.6L977.9,281.7L978.3,279.7L978.7,277.7L979.1,275.8L979.5,273.8L979.9,271.9L980.4,269.9L980.8,268.0L981.3,266.0L981.8,264.1L982.3,262.1L982.7,260.2L983.2,258.2L983.6,256.3L984.1,254.3L984.5,252.4L985.0,250.5L985.5,248.5L986.1,246.6L986.7,244.7L987.3,242.8L988.0,240.9L988.7,239.1L989.5,237.2L990.2,235.3L990.9,233.5L991.7,231.6L992.4,229.8L993.3,228.0L994.3,226.3L995.4,224.6L996.6,223.0L998.0,221.6L999.5,220.3L1001.2,219.3L1003.1,218.6L1005.0,218.7L1006.9,219.4L1008.5,220.5L1010.0,221.8L1011.2,223.3L1012.4,225.0L1013.5,226.7L1014.5,228.4L1015.4,230.2L1016.3,231.9L1017.3,233.7L1018.2,235.5L1019.1,237.3L1019.9,239.1L1020.7,240.9L1021.5,242.7L1022.3,244.6L1023.0,246.4L1023.7,248.3L1024.4,250.2L1025.0,252.1L1025.7,254.0L1026.3,255.9L1027.0,257.8L1027.7,259.7L1028.4,261.5L1029.1,263.4L1029.9,265.2L1030.6,267.1L1031.4,268.9L1032.1,270.8L1032.9,272.7L1033.6,274.5L1034.4,276.4L1035.1,278.2L1035.8,280.1L1036.6,281.9L1037.3,283.8L1038.1,285.7L1038.8,287.5L1039.5,289.4L1040.1,291.3L1040.8,293.2L1041.3,295.1L1041.9,297.0L1042.5,298.9L1043.0,300.9L1043.6,302.8L1044.2,304.7L1044.7,306.6L1045.3,308.5L1045.9,310.5L1046.5,312.4L1047.2,314.2L1047.8,316.1L1048.6,318.0L1049.3,319.8L1050.2,321.7L1051.0,323.5L1051.9,325.3L1052.8,327.1L1053.7,328.8L1054.6,330.6L1055.6,332.4L1056.6,334.1L1057.5,335.9L1058.5,337.6L1059.5,339.4L1060.5,341.1L1061.5,342.8L1062.6,344.5L1063.6,346.2L1064.8,347.8L1065.9,349.5L1067.1,351.1L1068.3,352.7L1069.6,354.2L1070.9,355.7L1072.3,357.1L1073.8,358.5L1075.3,359.7L1077.0,360.8L1078.7,361.7L1080.5,362.6L1082.4,363.3L1084.2,364.0L1086.1,364.7L1088.1,365.2L1090.0,365.7L1091.9,366.2L1093.9,366.7L1095.8,367.1L1097.8,367.5L1099.8,367.9L1101.7,368.2L1103.7,368.5L1105.7,368.7L1107.7,369.0L1109.7,369.2L1111.6,369.5L1113.6,369.8L1115.5,370.2L1117.5,370.8L1119.4,371.4L1121.2,372.1L1123.1,372.8L1124.9,373.6L1126.7,374.4L1128.5,375.3L1130.3,376.3L1132.0,377.3L1133.7,378.3L1135.4,379.5L1137.0,380.7L1138.5,381.9L1140.1,383.2L1141.5,384.5L1143.0,385.9L1144.4,387.3L1145.9,388.7L1147.2,390.1L1148.6,391.6L1150.0,393.1L1151.3,394.6L1152.6,396.1L1153.9,397.6L1155.2,399.2L1156.4,400.7L1157.7,402.3L1158.9,403.8L1160.2,405.4L1161.4,406.9L1162.7,408.5L1164.0,410.0L1165.3,411.5L1166.6,413.0L1168.0,414.5L1169.3,416.0L1170.6,417.5L1172.0,419.0L1173.3,420.4L1174.7,421.9L1176.1,423.3L1177.5,424.8L1178.9,426.2L1180.4,427.6L1181.8,429.0L1183.3,430.3L1184.7,431.7L1186.2,433.0L1187.7,434.4L1189.2,435.7L1190.8,436.9L1192.3,438.2L1193.9,439.5L1195.4,440.7L1197.0,441.9L1198.7,443.1L1200.3,444.2L1201.9,445.4L1203.6,446.5L1205.3,447.5L1207.0,448.6L1208.7,449.6L1210.5,450.6L1212.2,451.6L1214.0,452.5L1215.7,453.4L1217.5,454.4L1219.3,455.3L1221.1,456.2L1222.9,457.1L1224.7,457.9L1226.5,458.8L1228.3,459.6L1230.1,460.5L1231.9,461.3L1233.8,462.1L1235.6,462.9L1237.4,463.7L1239.3,464.5L1241.1,465.3L1243.0,466.1L1244.8,466.8L1246.7,467.6L1248.5,468.3L1250.4,469.0L1252.3,469.7L1254.1,470.4L1256.0,471.1L1257.9,471.8L1259.8,472.4L1261.7,473.0L1263.6,473.6L1265.5,474.2L1267.5,474.8L1269.4,475.3L1271.3,475.8L1273.3,476.3L1275.2,476.7L1277.2,477.1L1279.1,477.5L1281.1,477.9L1283.1,478.3L1285.0,478.6L1287.0,479.0L1289.0,479.3L1290.9,479.6L1292.9,480.0L1294.9,480.2L1296.9,480.5L1298.9,480.8L1300.9,481.0L1302.8,481.3L1304.8,481.5L1306.8,481.7L1308.8,481.9L1310.8,482.0L1312.8,482.2L1314.8,482.4L1316.8,482.5L1318.8,482.7L1320.8,482.8L1322.8,483.0L1324.8,483.1L1326.8,483.2L1328.8,483.3L1330.8,483.5L1332.8,483.6L1334.8,483.7L1336.8,483.8L1338.8,483.9L1340.7,484.1L1342.7,484.2L1344.7,484.3L1346.7,484.4L1348.7,484.5L1350.7,484.6L1352.7,484.8L1354.7,484.9L1356.7,485.0L1358.7,485.1L1360.7,485.2L1362.7,485.3L1364.7,485.4L1366.7,485.5L1368.7,485.6L1370.7,485.7L1372.7,485.8L1374.7,485.9L1376.7,486.0L1378.7,486.1L1380.7,486.2L1382.7,486.3L1384.7,486.4L1386.7,486.5L1388.7,486.6L1390.7,486.6L1392.7,486.7L1394.7,486.8L1396.7,486.9L1398.7,487.0L1400.7,487.0L1402.7,487.1L1404.7,487.2L1406.7,487.2L1408.7,487.3L1410.7,487.4L1412.7,487.4L1414.7,487.5L1416.7,487.6L1418.7,487.6L1420.7,487.7L1422.7,487.8L1424.7,487.8L1426.7,487.9L1428.7,487.9L1430.7,488.0L1432.7,488.1L1434.7,488.1L1436.7,488.2L1438.7,488.2L1440.7,488.3L1442.7,488.4L1444.7,488.4L1446.7,488.5L1448.7,488.5L1450.7,488.6L1452.7,488.7L1454.7,488.7L1456.7,488.8L1458.7,488.8L1460.7,488.9L1462.7,489.0L1464.7,489.0L1466.7,489.1L1468.7,489.1L1470.7,489.2L1472.7,489.2L1474.7,489.3L1476.7,489.4L1478.7,489.4L1480.7,489.5L1481.7,489.5" fill="none" stroke="#E8000B" stroke-width="3.2" stroke-linejoin="round" stroke-linecap="round"/>
<rect x="165.5" y="574.6" width="581.0" height="468.0" fill="none" stroke="#111111" stroke-width="2.0"/>
<path d="M165.5,1042.6V1050.6M230.1,1042.6V1046.6M294.6,1042.6V1050.6M359.2,1042.6V1046.6M423.7,1042.6V1050.6M488.3,1042.6V1046.6M552.8,1042.6V1050.6M617.4,1042.6V1046.6M681.9,1042.6V1050.6M746.5,1042.6V1046.6M165.5,1042.6H157.5M165.5,964.6H161.5M165.5,886.6H157.5M165.5,808.6H161.5M165.5,730.6H157.5M165.5,652.6H161.5M165.5,574.6H157.5" stroke="#111111" stroke-width="2.0" fill="none"/>
<text x="165.5" y="1072.6" font-family='"Liberation Sans", sans-serif' font-size="19.4" text-anchor="middle" fill="#111" >100</text>
<text x="294.6" y="1072.6" font-family='"Liberation Sans", sans-serif' font-size="19.4" text-anchor="middle" fill="#111" >200</text>
<text x="423.7" y="1072.6" font-family='"Liberation Sans", sans-serif' font-size="19.4" text-anchor="middle" fill="#111" >300</text>
<text x="552.8" y="1072.6" font-family='"Liberation Sans", sans-serif' font-size="19.4" text-anchor="middle" fill="#111" >400</text>
<text x="681.9" y="1072.6" font-family='"Liberation Sans", sans-serif' font-size="19.4" text-anchor="middle" fill="#111" >500</text>
<text x="150.8" y="1047.9" font-family='"Liberation Sans", sans-serif' font-size="19.4" text-anchor="end" fill="#111" >0</text>
<text x="150.8" y="891.9" font-family='"Liberation Sans", sans-serif' font-size="19.4" text-anchor="end" fill="#111" >20</text>
<text x="150.8" y="735.9" font-family='"Liberation Sans", sans-serif' font-size="19.4" text-anchor="end" fill="#111" >40</text>
<text x="150.8" y="579.9" font-family='"Liberation Sans", sans-serif' font-size="19.4" text-anchor="end" fill="#111" >60</text>
<text x="18.0" y="619.0" font-family='"Liberation Serif", serif' font-size="45.0" text-anchor="start" fill="#111" >(c)</text>
<text x="0" y="0" transform="translate(104.9,790.5) rotate(-90)" font-family='"Liberation Sans", sans-serif' font-size="24.2" text-anchor="middle" fill="#111">Diethylamin Concentration (ppm)</text>
<text x="456.0" y="1105.1" font-family='"Liberation Sans", sans-serif' font-size="24.6" text-anchor="middle" fill="#111" >Temperature (<tspan font-size="16.2" dy="-9">o</tspan><tspan dy="9">C)</tspan></text>
<path d="M618.4,596.0H673.0" stroke="#E8000B" stroke-width="2.4"/>
<text x="678.3" y="604.2" font-family='"Liberation Sans", sans-serif' font-size="24.4" text-anchor="start" fill="#111" >0.4-H</text>
<path d="M618.4,625.6H673.0" stroke="#2A5B8E" stroke-width="2.4"/>
<text x="678.3" y="633.8" font-family='"Liberation Sans", sans-serif' font-size="24.4" text-anchor="start" fill="#111" >0.8-H</text>
<path d="M618.4,655.3H673.0" stroke="#F2BA1A" stroke-width="2.4"/>
<text x="678.3" y="663.5" font-family='"Liberation Sans", sans-serif' font-size="24.4" text-anchor="start" fill="#111" >2.3-H</text>
<path d="M168.0,1019.7L170.0,1019.7L172.0,1019.7L174.0,1019.6L176.0,1019.6L178.0,1019.6L180.0,1019.6L182.0,1019.5L184.0,1019.3L186.0,1019.1L188.0,1018.8L189.9,1018.4L191.8,1017.9L193.7,1017.3L195.6,1016.7L197.5,1015.9L199.3,1015.1L201.0,1014.1L202.8,1013.1L204.4,1012.0L206.0,1010.8L207.5,1009.5L208.9,1008.1L210.2,1006.6L211.5,1005.1L212.7,1003.4L213.8,1001.8L214.8,1000.1L215.8,998.3L216.8,996.6L217.7,994.8L218.6,993.1L219.5,991.3L220.4,989.4L221.2,987.6L222.0,985.8L222.7,983.9L223.5,982.1L224.2,980.2L225.0,978.4L225.7,976.5L226.4,974.6L227.2,972.8L227.9,970.9L228.6,969.0L229.3,967.1L230.0,965.3L230.7,963.4L231.3,961.5L232.0,959.6L232.6,957.7L233.3,955.8L233.9,953.9L234.5,952.0L235.1,950.1L235.7,948.2L236.3,946.3L236.8,944.3L237.3,942.4L237.9,940.5L238.4,938.5L238.9,936.6L239.3,934.7L239.8,932.7L240.3,930.8L240.7,928.8L241.1,926.9L241.6,924.9L242.0,923.0L242.4,921.0L242.8,919.0L243.2,917.1L243.6,915.1L244.0,913.1L244.3,911.2L244.7,909.2L245.0,907.2L245.4,905.3L245.7,903.3L246.1,901.3L246.5,899.4L247.0,897.4L247.5,895.5L248.0,893.6L248.5,891.6L249.1,889.7L249.6,887.8L250.0,885.8L250.5,883.9L250.9,881.9L251.3,879.9L251.7,878.0L252.1,876.0L252.5,874.1L252.9,872.1L253.3,870.1L253.7,868.2L254.1,866.2L254.5,864.2L254.9,862.3L255.3,860.3L255.7,858.4L256.1,856.4L256.5,854.5L257.0,852.5L257.4,850.5L257.8,848.6L258.2,846.6L258.7,844.7L259.1,842.7L259.6,840.8L260.1,838.8L260.5,836.9L261.0,835.0L261.6,833.0L262.1,831.1L262.7,829.2L263.3,827.3L263.9,825.4L264.4,823.4L265.0,821.5L265.6,819.6L266.1,817.7L266.7,815.8L267.2,813.8L267.7,811.9L268.3,810.0L268.8,808.0L269.4,806.1L270.0,804.2L270.7,802.3L271.4,800.5L272.1,798.6L272.9,796.7L273.6,794.9L274.4,793.1L275.3,791.2L276.1,789.4L277.0,787.7L278.0,785.9L279.1,784.2L280.2,782.6L281.4,780.9L282.6,779.3L283.8,777.8L285.0,776.2L286.4,774.8L288.0,773.7L289.9,773.0L291.8,772.9L293.8,773.2L295.6,774.0L297.1,775.2L298.6,776.6L299.9,778.0L301.3,779.5L302.6,781.1L303.7,782.7L304.8,784.4L305.7,786.1L306.7,787.9L307.5,789.7L308.4,791.5L309.3,793.3L310.1,795.1L311.0,796.9L312.0,798.6L313.0,800.4L314.0,802.1L315.1,803.7L316.2,805.4L317.3,807.1L318.4,808.8L319.4,810.5L320.3,812.3L321.2,814.1L322.1,815.9L322.9,817.7L323.7,819.5L324.5,821.3L325.4,823.2L326.2,825.0L327.1,826.8L327.9,828.6L328.8,830.4L329.6,832.2L330.5,834.0L331.3,835.9L332.2,837.7L333.0,839.5L333.9,841.3L334.8,843.1L335.7,844.8L336.7,846.6L337.6,848.4L338.5,850.1L339.5,851.9L340.3,853.7L341.2,855.5L342.1,857.3L342.9,859.1L343.8,860.9L344.7,862.7L345.5,864.5L346.4,866.3L347.3,868.1L348.2,869.9L349.1,871.7L350.0,873.5L350.9,875.3L351.7,877.1L352.6,878.9L353.4,880.7L354.2,882.6L355.1,884.4L355.9,886.2L356.8,888.0L357.6,889.8L358.5,891.6L359.4,893.4L360.3,895.2L361.2,897.0L362.1,898.8L363.0,900.6L363.9,902.3L364.9,904.1L365.8,905.9L366.8,907.6L367.7,909.4L368.7,911.1L369.6,912.9L370.6,914.7L371.5,916.5L372.4,918.2L373.3,920.0L374.2,921.8L375.2,923.5L376.2,925.3L377.2,927.0L378.3,928.7L379.4,930.4L380.4,932.0L381.5,933.7L382.6,935.4L383.6,937.1L384.7,938.8L385.8,940.5L386.8,942.2L387.9,943.9L389.0,945.6L390.2,947.2L391.3,948.8L392.6,950.4L393.9,951.9L395.2,953.4L396.5,954.9L397.9,956.4L399.2,957.9L400.5,959.4L401.8,961.0L403.1,962.5L404.4,964.0L405.7,965.5L407.0,967.0L408.4,968.4L409.8,969.8L411.3,971.2L412.8,972.6L414.3,973.9L415.8,975.2L417.4,976.4L419.0,977.6L420.6,978.7L422.3,979.8L424.0,980.8L425.7,981.9L427.4,982.9L429.1,984.0L430.9,985.0L432.6,986.0L434.4,986.9L436.1,987.9L437.9,988.8L439.7,989.7L441.5,990.5L443.3,991.4L445.2,992.2L447.0,993.0L448.8,993.8L450.7,994.6L452.5,995.3L454.4,996.0L456.3,996.8L458.1,997.5L460.0,998.2L461.9,998.8L463.8,999.5L465.7,1000.1L467.6,1000.7L469.5,1001.3L471.4,1001.9L473.3,1002.4L475.3,1003.0L477.2,1003.5L479.1,1004.0L481.1,1004.5L483.0,1005.0L485.0,1005.5L486.9,1005.9L488.9,1006.4L490.8,1006.8L492.8,1007.2L494.7,1007.6L496.7,1008.0L498.7,1008.4L500.6,1008.8L502.6,1009.2L504.6,1009.5L506.5,1009.9L508.5,1010.2L510.5,1010.5L512.5,1010.8L514.4,1011.1L516.4,1011.5L518.4,1011.7L520.4,1012.0L522.4,1012.3L524.3,1012.6L526.3,1012.9L528.3,1013.2L530.3,1013.4L532.3,1013.7L534.3,1014.0L536.2,1014.2L538.2,1014.5L540.2,1014.7L542.2,1015.0L544.2,1015.2L546.2,1015.4L548.2,1015.7L550.2,1015.9L552.1,1016.1L554.1,1016.3L556.1,1016.5L558.1,1016.7L560.1,1016.7L562.1,1016.7L564.1,1016.6L566.0,1016.3L568.0,1015.9L569.9,1015.3L571.8,1014.7L573.6,1013.8L575.3,1012.9L576.9,1011.7L578.4,1010.4L579.7,1009.0L581.0,1007.5L582.2,1005.9L583.3,1004.2L584.3,1002.5L585.2,1000.7L586.0,998.9L586.8,997.0L587.5,995.2L588.2,993.3L588.8,991.4L589.4,989.5L590.0,987.6L590.5,985.6L591.1,983.7L591.6,981.8L592.0,979.8L592.5,977.9L592.9,975.9L593.4,974.0L593.8,972.0L594.2,970.1L594.7,968.1L595.1,966.1L595.5,964.2L595.8,962.2L596.2,960.2L596.6,958.3L596.9,956.3L597.2,954.3L597.4,952.3L597.7,950.4L597.9,948.4L598.2,946.4L598.4,944.4L598.6,942.4L598.9,940.4L599.1,938.4L599.4,936.4L599.6,934.5L599.9,932.5L600.1,930.5L600.4,928.5L600.6,926.5L600.9,924.5L601.1,922.5L601.3,920.6L601.6,918.6L601.8,916.6L602.1,914.6L602.3,912.6L602.6,910.6L602.9,908.6L603.1,906.7L603.4,904.7L603.7,902.7L604.0,900.7L604.3,898.7L604.6,896.8L604.9,894.8L605.2,892.8L605.5,890.8L605.8,888.8L606.1,886.9L606.4,884.9L606.7,882.9L607.0,880.9L607.3,878.9L607.6,877.0L608.0,875.0L608.4,873.0L608.8,871.1L609.3,869.1L609.8,867.2L610.3,865.3L610.9,863.4L611.3,861.4L611.8,859.5L612.2,857.5L612.6,855.5L613.0,853.6L613.3,851.6L613.7,849.7L614.1,847.7L614.5,845.7L614.9,843.8L615.3,841.8L615.6,839.8L616.0,837.9L616.4,835.9L616.9,834.0L617.3,832.0L617.9,830.1L618.5,828.2L619.2,826.3L620.3,824.7L621.7,823.4L623.5,823.1L625.1,824.0L626.3,825.6L627.2,827.3L627.9,829.2L628.4,831.1L628.9,833.1L629.5,835.0L630.0,836.9L630.6,838.9L631.1,840.8L631.5,842.7L632.0,844.7L632.4,846.6L632.8,848.6L633.2,850.6L633.5,852.5L633.9,854.5L634.3,856.5L634.6,858.4L635.0,860.4L635.4,862.4L635.7,864.3L636.1,866.3L636.5,868.3L636.9,870.2L637.4,872.2L637.8,874.1L638.3,876.1L638.8,878.0L639.4,879.9L639.9,881.9L640.4,883.8L640.9,885.7L641.4,887.7L641.9,889.6L642.4,891.5L642.9,893.5L643.4,895.4L643.9,897.4L644.3,899.3L644.8,901.3L645.3,903.2L645.8,905.1L646.3,907.1L646.8,909.0L647.3,911.0L647.8,912.9L648.2,914.8L648.7,916.8L649.1,918.8L649.5,920.7L649.9,922.7L650.2,924.6L650.6,926.6L650.9,928.6L651.3,930.6L651.6,932.5L652.0,934.5L652.4,936.5L652.7,938.4L653.1,940.4L653.5,942.4L653.9,944.3L654.4,946.3L654.9,948.2L655.4,950.1L656.0,952.0L656.7,953.9L657.4,955.8L658.1,957.7L658.9,959.5L659.7,961.3L660.6,963.1L661.5,964.9L662.4,966.7L663.3,968.5L664.3,970.2L665.3,971.9L666.4,973.6L667.5,975.3L668.7,976.9L669.9,978.5L671.1,980.1L672.4,981.6L673.7,983.1L675.1,984.6L676.5,986.0L677.9,987.4L679.3,988.8L680.8,990.2L682.3,991.5L683.8,992.8L685.4,994.0L687.0,995.2L688.6,996.4L690.3,997.5L691.9,998.6L693.7,999.7L695.4,1000.7L697.1,1001.6L698.9,1002.6L700.7,1003.5L702.5,1004.4L704.3,1005.2L706.2,1005.9L708.0,1006.6L709.9,1007.2L711.9,1007.7L713.8,1008.3L715.7,1008.8L717.7,1009.3L719.6,1009.8L721.5,1010.3L723.5,1010.8L725.4,1011.3L727.4,1011.8L729.3,1012.3L731.2,1012.8L733.2,1013.3L735.1,1013.8L737.1,1014.2L739.0,1014.7L740.9,1015.2L742.9,1015.7L744.8,1016.2L745.8,1016.4" fill="none" stroke="#2A5B8E" stroke-width="2.4" stroke-linejoin="round" stroke-linecap="round"/>
<path d="M168.0,1023.7L170.0,1023.6L172.0,1023.5L174.0,1023.4L176.0,1023.4L178.0,1023.3L180.0,1023.2L182.0,1023.0L184.0,1022.8L185.9,1022.5L187.9,1022.1L189.8,1021.7L191.8,1021.1L193.6,1020.5L195.5,1019.7L197.3,1018.9L199.0,1017.9L200.6,1016.8L202.2,1015.6L203.7,1014.2L205.1,1012.8L206.4,1011.3L207.7,1009.8L208.9,1008.2L210.1,1006.6L211.2,1004.9L212.2,1003.2L213.2,1001.5L214.1,999.7L215.0,997.9L215.8,996.1L216.5,994.2L217.2,992.3L217.8,990.4L218.4,988.5L218.9,986.6L219.4,984.7L219.9,982.7L220.4,980.8L220.8,978.8L221.3,976.9L221.7,974.9L222.1,973.0L222.6,971.0L223.0,969.1L223.4,967.1L223.8,965.2L224.2,963.2L224.6,961.2L225.0,959.3L225.4,957.3L225.7,955.3L226.1,953.4L226.4,951.4L226.8,949.4L227.1,947.5L227.5,945.5L227.8,943.5L228.1,941.5L228.4,939.6L228.7,937.6L229.0,935.6L229.3,933.6L229.6,931.7L229.8,929.7L230.1,927.7L230.4,925.7L230.7,923.7L231.0,921.8L231.3,919.8L231.6,917.8L231.9,915.8L232.2,913.9L232.5,911.9L232.8,909.9L233.1,907.9L233.4,905.9L233.7,904.0L234.0,902.0L234.3,900.0L234.6,898.0L234.8,896.0L235.1,894.1L235.4,892.1L235.7,890.1L235.9,888.1L236.2,886.1L236.4,884.1L236.7,882.2L236.9,880.2L237.1,878.2L237.4,876.2L237.6,874.2L237.8,872.2L238.0,870.2L238.2,868.3L238.5,866.3L238.7,864.3L238.9,862.3L239.1,860.3L239.3,858.3L239.5,856.3L239.7,854.3L239.9,852.3L240.1,850.4L240.3,848.4L240.5,846.4L240.7,844.4L240.9,842.4L241.1,840.4L241.4,838.4L241.6,836.4L241.8,834.4L242.0,832.4L242.2,830.5L242.3,828.5L242.5,826.5L242.7,824.5L242.9,822.5L243.1,820.5L243.3,818.5L243.5,816.5L243.7,814.5L243.9,812.5L244.1,810.5L244.3,808.6L244.5,806.6L244.7,804.6L244.9,802.6L245.1,800.6L245.3,798.6L245.5,796.6L245.8,794.6L246.0,792.6L246.2,790.7L246.5,788.7L246.7,786.7L247.0,784.7L247.3,782.7L247.5,780.7L247.8,778.8L248.1,776.8L248.4,774.8L248.6,772.8L248.9,770.8L249.2,768.9L249.4,766.9L249.7,764.9L249.9,762.9L250.2,760.9L250.4,758.9L250.6,757.0L250.9,755.0L251.1,753.0L251.3,751.0L251.5,749.0L251.7,747.0L251.9,745.0L252.1,743.0L252.3,741.0L252.6,739.1L252.8,737.1L253.0,735.1L253.2,733.1L253.5,731.1L253.7,729.1L253.9,727.1L254.2,725.1L254.4,723.2L254.7,721.2L254.9,719.2L255.2,717.2L255.4,715.2L255.7,713.2L255.9,711.3L256.2,709.3L256.4,707.3L256.7,705.3L256.9,703.3L257.2,701.3L257.4,699.4L257.7,697.4L257.9,695.4L258.2,693.4L258.5,691.4L258.7,689.4L259.0,687.5L259.3,685.5L259.6,683.5L259.9,681.5L260.3,679.6L260.6,677.6L260.9,675.6L261.3,673.6L261.6,671.7L262.0,669.7L262.3,667.7L262.7,665.8L263.1,663.8L263.5,661.8L263.9,659.9L264.3,657.9L264.8,656.0L265.3,654.0L265.7,652.1L266.2,650.2L266.8,648.2L267.3,646.3L268.0,644.4L268.7,642.6L269.4,640.7L270.2,638.9L271.0,637.0L271.9,635.2L272.9,633.5L274.1,632.0L275.7,631.3L277.2,632.3L278.4,633.9L279.3,635.7L280.3,637.4L281.1,639.2L282.0,641.0L282.8,642.9L283.6,644.7L284.3,646.6L285.0,648.5L285.6,650.4L286.2,652.3L286.7,654.2L287.3,656.1L287.8,658.1L288.3,660.0L288.7,661.9L289.2,663.9L289.6,665.8L290.0,667.8L290.4,669.8L290.8,671.7L291.2,673.7L291.6,675.6L292.0,677.6L292.4,679.6L292.8,681.5L293.1,683.5L293.5,685.5L293.8,687.4L294.1,689.4L294.5,691.4L294.8,693.3L295.2,695.3L295.5,697.3L295.9,699.2L296.3,701.2L296.6,703.2L297.0,705.1L297.4,707.1L297.8,709.1L298.2,711.0L298.6,713.0L299.0,715.0L299.3,716.9L299.7,718.9L300.1,720.8L300.5,722.8L300.9,724.8L301.3,726.7L301.6,728.7L302.0,730.7L302.4,732.6L302.7,734.6L303.1,736.6L303.4,738.5L303.7,740.5L304.0,742.5L304.3,744.5L304.6,746.5L304.8,748.4L305.1,750.4L305.4,752.4L305.6,754.4L305.9,756.4L306.1,758.3L306.4,760.3L306.7,762.3L307.0,764.3L307.3,766.3L307.6,768.2L308.0,770.2L308.4,772.2L308.8,774.1L309.3,776.1L309.8,778.0L310.3,779.9L310.8,781.9L311.3,783.8L311.7,785.7L312.2,787.7L312.7,789.6L313.2,791.6L313.7,793.5L314.2,795.4L314.7,797.4L315.2,799.3L315.6,801.3L316.0,803.2L316.4,805.2L316.8,807.1L317.1,809.1L317.4,811.1L317.7,813.1L318.0,815.1L318.3,817.0L318.6,819.0L318.9,821.0L319.2,823.0L319.6,824.9L319.9,826.9L320.3,828.9L320.7,830.8L321.1,832.8L321.6,834.7L322.0,836.7L322.5,838.6L323.0,840.5L323.6,842.5L324.2,844.4L324.7,846.3L325.3,848.2L325.9,850.1L326.4,852.1L326.9,854.0L327.4,855.9L328.0,857.8L328.5,859.8L329.1,861.7L329.7,863.6L330.3,865.5L331.0,867.4L331.6,869.3L332.2,871.2L332.9,873.1L333.5,875.0L334.1,876.9L334.8,878.8L335.5,880.6L336.2,882.5L336.9,884.4L337.7,886.2L338.4,888.1L339.2,889.9L339.9,891.8L340.7,893.6L341.4,895.5L342.1,897.4L342.8,899.2L343.6,901.1L344.3,903.0L345.0,904.8L345.8,906.7L346.6,908.5L347.4,910.3L348.3,912.1L349.2,913.9L350.1,915.7L351.0,917.5L351.9,919.2L352.8,921.0L353.7,922.8L354.6,924.6L355.5,926.4L356.5,928.1L357.5,929.9L358.5,931.5L359.7,933.2L360.9,934.8L362.1,936.4L363.3,937.9L364.6,939.5L366.0,941.0L367.3,942.5L368.6,944.0L369.8,945.5L371.1,947.1L372.3,948.7L373.5,950.3L374.8,951.8L376.1,953.3L377.4,954.8L378.8,956.2L380.3,957.6L381.8,958.9L383.3,960.2L384.9,961.5L386.4,962.7L388.0,963.9L389.6,965.2L391.2,966.4L392.8,967.6L394.4,968.7L396.0,969.9L397.7,971.0L399.3,972.2L401.0,973.3L402.6,974.4L404.3,975.4L406.0,976.5L407.8,977.5L409.5,978.5L411.2,979.5L413.0,980.5L414.7,981.4L416.5,982.4L418.3,983.3L420.1,984.1L421.9,985.0L423.7,985.9L425.5,986.7L427.3,987.6L429.1,988.4L431.0,989.2L432.8,990.0L434.7,990.7L436.6,991.3L438.5,992.0L440.4,992.6L442.3,993.2L444.2,993.8L446.1,994.3L448.0,994.9L449.9,995.4L451.9,996.0L453.8,996.5L455.7,997.0L457.7,997.6L459.6,998.1L461.5,998.6L463.5,999.1L465.4,999.6L467.3,1000.1L469.3,1000.6L471.2,1001.1L473.2,1001.6L475.1,1002.0L477.0,1002.5L479.0,1002.9L480.9,1003.4L482.9,1003.8L484.9,1004.2L486.8,1004.5L488.8,1004.9L490.8,1005.2L492.7,1005.5L494.7,1005.8L496.7,1006.1L498.7,1006.4L500.7,1006.7L502.6,1007.0L504.6,1007.2L506.6,1007.5L508.6,1007.7L510.6,1008.0L512.6,1008.2L514.5,1008.5L516.5,1008.7L518.5,1009.0L520.5,1009.2L522.5,1009.5L524.5,1009.7L526.5,1009.9L528.4,1010.2L530.4,1010.4L532.4,1010.7L534.4,1010.9L536.4,1011.1L538.4,1011.4L540.4,1011.6L542.3,1011.8L544.3,1012.1L546.3,1012.3L548.3,1012.5L550.3,1012.8L552.3,1013.1L554.2,1013.3L556.2,1013.7L558.2,1014.0L560.2,1014.3L562.1,1014.6L564.1,1014.9L566.1,1015.1L568.1,1015.2L570.1,1015.1L572.0,1014.9L573.9,1014.4L575.8,1013.8L577.6,1013.0L579.3,1012.1L580.9,1010.9L582.4,1009.7L583.8,1008.2L585.1,1006.7L586.3,1005.1L587.3,1003.4L588.3,1001.7L589.2,999.9L590.1,998.1L591.0,996.3L591.8,994.5L592.6,992.7L593.3,990.8L594.0,988.9L594.6,987.0L595.2,985.1L595.7,983.2L596.2,981.3L596.7,979.3L597.2,977.4L597.6,975.4L598.1,973.5L598.5,971.5L598.9,969.6L599.3,967.6L599.7,965.6L600.1,963.7L600.5,961.7L600.9,959.8L601.3,957.8L601.6,955.8L601.9,953.8L602.3,951.9L602.6,949.9L602.9,947.9L603.2,945.9L603.5,944.0L603.8,942.0L604.1,940.0L604.4,938.0L604.7,936.1L605.0,934.1L605.4,932.1L605.7,930.1L606.1,928.2L606.4,926.2L606.8,924.2L607.1,922.3L607.5,920.3L607.9,918.4L608.3,916.4L608.7,914.4L609.1,912.5L609.5,910.5L609.9,908.5L610.3,906.6L610.7,904.6L611.1,902.7L611.5,900.7L611.9,898.7L612.2,896.8L612.6,894.8L613.0,892.9L613.4,890.9L613.8,888.9L614.2,887.0L614.5,885.0L614.9,883.0L615.3,881.1L615.7,879.1L616.2,877.2L616.7,875.3L617.4,873.4L618.1,871.5L618.9,869.7L619.7,867.9L620.6,866.1L621.6,864.3L622.7,862.7L623.9,861.1L625.4,859.8L627.1,858.8L628.9,858.8L630.4,859.9L631.7,861.5L632.8,863.1L633.8,864.9L634.8,866.6L635.6,868.4L636.4,870.3L637.2,872.1L637.9,874.0L638.6,875.8L639.3,877.7L640.1,879.6L640.9,881.4L641.7,883.2L642.5,885.0L643.4,886.8L644.3,888.6L645.1,890.4L646.0,892.3L646.7,894.1L647.5,895.9L648.3,897.8L649.0,899.7L649.7,901.5L650.4,903.4L651.1,905.3L651.7,907.2L652.4,909.1L653.1,910.9L653.7,912.8L654.4,914.7L655.1,916.6L655.8,918.4L656.5,920.3L657.2,922.2L657.9,924.1L658.6,925.9L659.3,927.8L660.1,929.7L660.8,931.5L661.6,933.4L662.4,935.2L663.3,937.0L664.1,938.8L665.0,940.6L665.8,942.4L666.7,944.2L667.6,946.0L668.5,947.8L669.4,949.6L670.4,951.3L671.3,953.1L672.4,954.8L673.4,956.5L674.5,958.1L675.7,959.8L676.9,961.4L678.1,962.9L679.4,964.5L680.7,966.0L682.1,967.5L683.4,968.9L684.8,970.4L686.3,971.8L687.7,973.1L689.1,974.5L690.6,975.9L692.1,977.3L693.6,978.6L695.1,979.9L696.6,981.2L698.2,982.4L699.8,983.6L701.4,984.8L703.1,985.9L704.7,987.0L706.4,988.0L708.2,989.0L709.9,990.0L711.7,990.9L713.5,991.8L715.3,992.7L717.1,993.5L718.9,994.3L720.8,995.0L722.6,995.8L724.5,996.5L726.4,997.2L728.2,998.0L730.1,998.7L732.0,999.4L733.8,1000.1L735.7,1000.9L737.5,1001.7L739.4,1002.4L741.2,1003.2L743.0,1004.0L744.9,1004.8L745.8,1005.2" fill="none" stroke="#E8000B" stroke-width="2.4" stroke-linejoin="round" stroke-linecap="round"/>
<path d="M168.0,1031.0L170.0,1031.0L172.0,1031.0L174.0,1031.0L176.0,1031.0L178.0,1031.0L180.0,1031.0L182.0,1031.0L184.0,1031.0L186.0,1031.0L188.0,1031.0L190.0,1031.0L192.0,1030.9L194.0,1030.9L196.0,1030.8L198.0,1030.8L200.0,1030.7L202.0,1030.5L204.0,1030.3L206.0,1030.1L208.0,1029.9L210.0,1029.7L211.9,1029.4L213.9,1029.0L215.9,1028.7L217.8,1028.3L219.8,1027.8L221.7,1027.3L223.6,1026.7L225.5,1026.0L227.4,1025.3L229.2,1024.5L231.0,1023.6L232.7,1022.6L234.4,1021.6L236.1,1020.5L237.7,1019.3L239.3,1018.1L240.8,1016.8L242.3,1015.4L243.7,1014.0L245.1,1012.6L246.4,1011.1L247.7,1009.5L248.9,1008.0L250.1,1006.4L251.3,1004.8L252.4,1003.1L253.5,1001.4L254.5,999.7L255.5,997.9L256.4,996.2L257.3,994.4L258.2,992.6L259.1,990.8L259.9,989.0L260.7,987.2L261.6,985.3L262.4,983.5L263.2,981.7L264.0,979.9L264.8,978.0L265.6,976.2L266.4,974.3L267.2,972.5L267.9,970.6L268.6,968.8L269.3,966.9L270.0,965.0L270.8,963.2L271.5,961.3L272.2,959.4L272.9,957.5L273.6,955.7L274.4,953.8L275.2,952.0L276.1,950.2L276.9,948.4L277.9,946.6L278.8,944.9L279.9,943.2L280.9,941.5L282.0,939.8L283.1,938.1L284.3,936.5L285.5,934.9L286.7,933.4L288.1,931.9L289.5,930.5L291.0,929.2L292.6,928.0L294.2,926.9L296.0,926.0L297.8,925.2L299.7,924.6L301.6,924.2L303.6,924.1L305.5,924.1L307.5,924.4L309.4,924.8L311.3,925.4L313.2,926.1L315.0,926.8L316.8,927.7L318.5,928.7L320.2,929.8L321.8,931.0L323.4,932.2L324.9,933.4L326.5,934.6L328.1,935.8L329.8,937.0L331.4,938.1L333.1,939.3L334.7,940.4L336.3,941.6L338.0,942.7L339.6,943.8L341.3,945.0L342.9,946.1L344.6,947.2L346.3,948.2L348.0,949.2L349.8,950.2L351.5,951.2L353.3,952.1L355.1,953.0L356.9,953.9L358.7,954.8L360.5,955.7L362.3,956.6L364.1,957.5L365.9,958.3L367.7,959.2L369.5,960.0L371.3,960.8L373.2,961.7L375.0,962.5L376.8,963.3L378.6,964.2L380.4,965.1L382.2,966.0L384.0,966.9L385.7,967.8L387.5,968.7L389.3,969.7L391.0,970.6L392.8,971.6L394.5,972.6L396.3,973.6L398.0,974.5L399.8,975.5L401.5,976.5L403.3,977.5L405.0,978.4L406.8,979.4L408.5,980.3L410.3,981.3L412.1,982.1L413.9,983.0L415.7,983.8L417.6,984.6L419.4,985.3L421.3,986.0L423.2,986.7L425.1,987.3L427.0,987.9L428.9,988.5L430.8,989.1L432.8,989.7L434.7,990.3L436.6,990.9L438.5,991.5L440.4,992.1L442.3,992.8L444.2,993.4L446.1,994.0L448.0,994.6L449.9,995.2L451.8,995.8L453.7,996.4L455.6,997.0L457.5,997.6L459.4,998.2L461.4,998.7L463.3,999.3L465.2,999.9L467.1,1000.4L469.1,1001.0L471.0,1001.5L472.9,1002.0L474.9,1002.5L476.8,1003.0L478.7,1003.5L480.7,1004.0L482.6,1004.4L484.6,1004.9L486.5,1005.3L488.5,1005.7L490.5,1006.0L492.4,1006.4L494.4,1006.7L496.4,1007.0L498.4,1007.3L500.4,1007.6L502.3,1007.8L504.3,1008.1L506.3,1008.4L508.3,1008.6L510.3,1008.8L512.3,1009.1L514.3,1009.3L516.2,1009.5L518.2,1009.7L520.2,1009.9L522.2,1010.2L524.2,1010.4L526.2,1010.6L528.2,1010.9L530.2,1011.1L532.1,1011.4L534.1,1011.6L536.1,1011.9L538.1,1012.2L540.1,1012.5L542.1,1012.8L544.0,1013.0L546.0,1013.3L548.0,1013.6L550.0,1013.8L552.0,1013.9L554.0,1014.1L556.0,1014.1L558.0,1014.1L560.0,1014.0L562.0,1013.8L563.9,1013.5L565.9,1013.1L567.8,1012.6L569.7,1011.9L571.5,1011.2L573.3,1010.3L575.0,1009.3L576.7,1008.2L578.2,1006.9L579.7,1005.6L581.0,1004.1L582.3,1002.6L583.4,1001.0L584.5,999.3L585.5,997.6L586.4,995.8L587.2,994.0L588.0,992.1L588.7,990.3L589.4,988.4L590.0,986.5L590.6,984.6L591.1,982.6L591.6,980.7L592.1,978.7L592.5,976.8L593.0,974.8L593.4,972.9L593.8,970.9L594.3,969.0L594.7,967.0L595.1,965.1L595.5,963.1L595.9,961.1L596.2,959.2L596.6,957.2L596.9,955.2L597.2,953.2L597.4,951.3L597.7,949.3L597.9,947.3L598.2,945.3L598.4,943.3L598.6,941.3L598.9,939.3L599.1,937.4L599.4,935.4L599.6,933.4L599.9,931.4L600.1,929.4L600.4,927.4L600.6,925.4L600.9,923.5L601.1,921.5L601.4,919.5L601.6,917.5L601.8,915.5L602.1,913.5L602.3,911.5L602.6,909.6L602.9,907.6L603.2,905.6L603.4,903.6L603.7,901.6L604.0,899.6L604.3,897.7L604.6,895.7L604.9,893.7L605.2,891.7L605.5,889.8L605.8,887.8L606.1,885.8L606.4,883.8L606.7,881.8L607.0,879.9L607.3,877.9L607.6,875.9L608.0,873.9L608.3,872.0L608.6,870.0L609.0,868.0L609.3,866.0L609.6,864.1L610.0,862.1L610.3,860.1L610.6,858.1L610.8,856.1L611.1,854.2L611.4,852.2L611.7,850.2L612.0,848.2L612.2,846.2L612.5,844.3L612.8,842.3L613.1,840.3L613.5,838.3L613.8,836.4L614.2,834.4L614.5,832.4L614.9,830.5L615.3,828.5L615.7,826.5L616.1,824.6L616.5,822.6L616.9,820.6L617.3,818.7L617.7,816.7L618.1,814.8L618.6,812.8L619.0,810.9L619.6,808.9L620.2,807.1L621.0,805.2L621.9,803.4L623.0,801.8L624.5,801.1L625.9,802.2L626.9,803.9L627.8,805.7L628.6,807.5L629.2,809.4L629.7,811.3L630.2,813.3L630.7,815.2L631.2,817.2L631.7,819.1L632.2,821.0L632.7,822.9L633.2,824.9L633.6,826.8L634.0,828.8L634.3,830.8L634.6,832.8L634.8,834.8L635.1,836.7L635.4,838.7L635.6,840.7L635.9,842.7L636.3,844.7L636.6,846.6L636.9,848.6L637.3,850.6L637.6,852.5L637.9,854.5L638.2,856.5L638.5,858.5L638.8,860.5L639.1,862.4L639.4,864.4L639.7,866.4L640.0,868.4L640.4,870.3L640.7,872.3L641.1,874.3L641.5,876.2L642.0,878.2L642.4,880.1L642.9,882.1L643.4,884.0L643.9,885.9L644.4,887.9L644.9,889.8L645.4,891.8L645.9,893.7L646.4,895.6L646.9,897.6L647.4,899.5L647.9,901.5L648.4,903.4L648.8,905.3L649.3,907.3L649.8,909.2L650.2,911.2L650.7,913.1L651.2,915.1L651.7,917.0L652.1,919.0L652.7,920.9L653.2,922.8L653.7,924.8L654.2,926.7L654.8,928.6L655.3,930.5L655.9,932.5L656.5,934.4L657.1,936.3L657.8,938.2L658.5,940.0L659.2,941.9L659.9,943.8L660.6,945.6L661.4,947.5L662.2,949.3L663.0,951.2L663.8,953.0L664.6,954.8L665.5,956.6L666.4,958.4L667.3,960.2L668.3,961.9L669.3,963.6L670.4,965.3L671.5,967.0L672.6,968.6L673.8,970.3L675.0,971.8L676.3,973.4L677.6,974.9L678.9,976.4L680.3,977.9L681.7,979.3L683.1,980.6L684.6,982.0L686.2,983.2L687.8,984.4L689.4,985.6L691.1,986.7L692.8,987.8L694.5,988.8L696.2,989.8L697.9,990.8L699.7,991.7L701.5,992.7L703.3,993.5L705.1,994.4L706.9,995.2L708.7,996.0L710.6,996.8L712.4,997.6L714.3,998.4L716.1,999.1L718.0,999.8L719.9,1000.5L721.7,1001.2L723.6,1001.9L725.5,1002.6L727.4,1003.2L729.3,1003.8L731.2,1004.4L733.2,1005.0L735.1,1005.5L737.0,1005.9L739.0,1006.4L740.9,1006.9L742.9,1007.3L744.8,1007.8L745.8,1008.0" fill="none" stroke="#F2BA1A" stroke-width="2.6" stroke-linejoin="round" stroke-linecap="round"/>
<rect x="901.7" y="580.6" width="579.1" height="466.7" fill="none" stroke="#111111" stroke-width="2.0"/>
<path d="M901.7,1047.3V1055.3M966.0,1047.3V1051.3M1030.4,1047.3V1055.3M1094.7,1047.3V1051.3M1159.1,1047.3V1055.3M1223.4,1047.3V1051.3M1287.8,1047.3V1055.3M1352.1,1047.3V1051.3M1416.5,1047.3V1055.3M1480.8,1047.3V1051.3M901.7,1047.3H893.7M901.7,969.5H897.7M901.7,891.7H893.7M901.7,814.0H897.7M901.7,736.2H893.7M901.7,658.4H897.7M901.7,580.6H893.7" stroke="#111111" stroke-width="2.0" fill="none"/>
<text x="901.7" y="1077.3" font-family='"Liberation Sans", sans-serif' font-size="19.4" text-anchor="middle" fill="#111" >100</text>
<text x="1030.4" y="1077.3" font-family='"Liberation Sans", sans-serif' font-size="19.4" text-anchor="middle" fill="#111" >200</text>
<text x="1159.1" y="1077.3" font-family='"Liberation Sans", sans-serif' font-size="19.4" text-anchor="middle" fill="#111" >300</text>
<text x="1287.8" y="1077.3" font-family='"Liberation Sans", sans-serif' font-size="19.4" text-anchor="middle" fill="#111" >400</text>
<text x="1416.5" y="1077.3" font-family='"Liberation Sans", sans-serif' font-size="19.4" text-anchor="middle" fill="#111" >500</text>
<text x="887.0" y="1052.6" font-family='"Liberation Sans", sans-serif' font-size="19.4" text-anchor="end" fill="#111" >0</text>
<text x="887.0" y="897.0" font-family='"Liberation Sans", sans-serif' font-size="19.4" text-anchor="end" fill="#111" >20</text>
<text x="887.0" y="741.5" font-family='"Liberation Sans", sans-serif' font-size="19.4" text-anchor="end" fill="#111" >40</text>
<text x="887.0" y="585.9" font-family='"Liberation Sans", sans-serif' font-size="19.4" text-anchor="end" fill="#111" >60</text>
<text x="769.5" y="619.6" font-family='"Liberation Serif", serif' font-size="45.0" text-anchor="start" fill="#111" >(d)</text>
<text x="0" y="0" transform="translate(841.3,795.4) rotate(-90)" font-family='"Liberation Sans", sans-serif' font-size="24.2" text-anchor="middle" fill="#111">Diethylamin Concentration (ppm)</text>
<text x="1191.1" y="1108.7" font-family='"Liberation Sans", sans-serif' font-size="24.6" text-anchor="middle" fill="#111" >Temperature (<tspan font-size="16.2" dy="-9">o</tspan><tspan dy="9">C)</tspan></text>
<path d="M1319.0,600.7H1374.7" stroke="#E8000B" stroke-width="2.4"/>
<text x="1379.0" y="608.9" font-family='"Liberation Sans", sans-serif' font-size="24.5" text-anchor="start" fill="#111" >0.4-NaH</text>
<path d="M1319.0,629.7H1374.7" stroke="#2A5B8E" stroke-width="2.4"/>
<text x="1379.0" y="637.9" font-family='"Liberation Sans", sans-serif' font-size="24.5" text-anchor="start" fill="#111" >0.8-NaH</text>
<path d="M1319.0,659.2H1374.7" stroke="#F2BA1A" stroke-width="2.4"/>
<text x="1379.0" y="667.4" font-family='"Liberation Sans", sans-serif' font-size="24.5" text-anchor="start" fill="#111" >2.3-NaH</text>
<path d="M902.0,1029.3L904.0,1029.4L906.0,1029.4L908.0,1029.5L910.0,1029.6L912.0,1029.7L914.0,1029.8L916.0,1029.8L918.0,1029.9L920.0,1029.9L922.0,1030.0L924.0,1030.0L926.0,1030.0L928.0,1030.0L930.0,1030.0L932.0,1029.9L934.0,1029.9L936.0,1029.8L938.0,1029.8L940.0,1029.7L942.0,1029.6L944.0,1029.4L946.0,1029.3L947.9,1029.0L949.9,1028.7L951.9,1028.3L953.8,1027.7L955.7,1027.1L957.6,1026.4L959.4,1025.7L961.3,1025.0L963.2,1024.3L965.0,1023.6L966.9,1022.8L968.7,1022.0L970.5,1021.1L972.2,1020.2L974.0,1019.2L975.6,1018.0L977.1,1016.8L978.6,1015.4L979.9,1014.0L981.2,1012.5L982.4,1010.9L983.6,1009.3L984.7,1007.6L985.8,1006.0L986.9,1004.3L987.9,1002.5L988.9,1000.8L989.9,999.0L990.8,997.3L991.7,995.5L992.7,993.7L993.6,991.9L994.4,990.2L995.3,988.3L996.1,986.5L997.0,984.7L997.8,982.9L998.6,981.1L999.4,979.2L1000.2,977.4L1001.0,975.6L1001.8,973.7L1002.5,971.9L1003.3,970.0L1004.0,968.1L1004.8,966.3L1005.5,964.4L1006.2,962.6L1007.0,960.7L1007.7,958.9L1008.5,957.0L1009.2,955.2L1010.0,953.3L1010.8,951.5L1011.6,949.6L1012.4,947.8L1013.3,946.0L1014.2,944.3L1015.2,942.5L1016.2,940.8L1017.3,939.1L1018.4,937.4L1019.5,935.8L1020.7,934.2L1022.0,932.7L1023.3,931.2L1024.7,929.7L1026.2,928.4L1027.7,927.1L1029.4,926.0L1031.1,925.0L1032.9,924.2L1034.8,923.7L1036.8,923.4L1038.8,923.2L1040.8,923.3L1042.8,923.6L1044.7,924.1L1046.5,924.9L1048.3,925.9L1049.9,927.0L1051.4,928.3L1052.9,929.6L1054.4,931.0L1055.9,932.3L1057.4,933.6L1058.9,934.9L1060.4,936.2L1062.0,937.4L1063.6,938.6L1065.2,939.8L1066.8,941.0L1068.5,942.2L1070.1,943.3L1071.8,944.3L1073.6,945.3L1075.3,946.2L1077.1,947.1L1078.9,947.9L1080.8,948.7L1082.6,949.5L1084.5,950.2L1086.4,950.9L1088.3,951.5L1090.2,952.2L1092.1,952.8L1094.0,953.4L1095.9,953.9L1097.8,954.4L1099.8,954.9L1101.7,955.3L1103.7,955.7L1105.7,956.0L1107.6,956.4L1109.6,956.7L1111.6,957.0L1113.6,957.2L1115.5,957.5L1117.5,957.8L1119.5,958.1L1121.5,958.4L1123.4,958.8L1125.4,959.1L1127.4,959.5L1129.3,959.9L1131.3,960.3L1133.2,960.8L1135.2,961.3L1137.1,961.8L1139.0,962.3L1141.0,962.9L1142.9,963.4L1144.8,964.0L1146.7,964.6L1148.6,965.2L1150.5,965.8L1152.4,966.5L1154.3,967.2L1156.2,967.8L1158.0,968.6L1159.9,969.3L1161.7,970.1L1163.6,970.9L1165.4,971.7L1167.2,972.5L1169.0,973.4L1170.8,974.2L1172.6,975.1L1174.4,975.9L1176.3,976.8L1178.1,977.6L1179.9,978.5L1181.7,979.3L1183.5,980.1L1185.4,980.9L1187.2,981.6L1189.1,982.4L1190.9,983.2L1192.8,983.9L1194.6,984.7L1196.5,985.4L1198.3,986.2L1200.2,986.9L1202.1,987.7L1203.9,988.4L1205.8,989.1L1207.7,989.8L1209.5,990.5L1211.4,991.2L1213.3,991.9L1215.1,992.6L1217.0,993.3L1218.9,994.0L1220.8,994.7L1222.6,995.4L1224.5,996.1L1226.4,996.7L1228.3,997.4L1230.2,998.0L1232.1,998.6L1234.0,999.2L1236.0,999.7L1237.9,1000.3L1239.8,1000.8L1241.8,1001.2L1243.7,1001.6L1245.7,1002.1L1247.6,1002.4L1249.6,1002.8L1251.6,1003.2L1253.5,1003.5L1255.5,1003.9L1257.5,1004.2L1259.4,1004.6L1261.4,1005.0L1263.4,1005.3L1265.3,1005.7L1267.3,1006.1L1269.3,1006.4L1271.2,1006.8L1273.2,1007.2L1275.2,1007.6L1277.1,1007.9L1279.1,1008.3L1281.1,1008.6L1283.0,1009.0L1285.0,1009.3L1287.0,1009.7L1289.0,1010.0L1290.9,1010.3L1292.9,1010.7L1294.9,1011.0L1296.8,1011.3L1298.8,1011.6L1300.8,1011.9L1302.8,1012.2L1304.8,1012.5L1306.7,1012.8L1308.7,1013.1L1310.7,1013.4L1312.7,1013.7L1314.6,1014.0L1316.6,1014.3L1318.6,1014.5L1320.6,1014.8L1322.6,1015.1L1324.6,1015.3L1326.5,1015.6L1328.5,1015.9L1330.5,1016.1L1332.5,1016.4L1334.5,1016.6L1336.5,1016.9L1338.4,1017.1L1340.4,1017.4L1342.4,1017.6L1344.4,1017.8L1346.4,1018.1L1348.4,1018.3L1350.4,1018.5L1352.4,1018.7L1354.3,1018.9L1356.3,1019.1L1358.3,1019.3L1360.3,1019.5L1362.3,1019.7L1364.3,1019.9L1366.3,1020.1L1368.3,1020.3L1370.3,1020.4L1372.3,1020.6L1374.3,1020.7L1376.3,1020.9L1378.3,1021.0L1380.3,1021.1L1382.2,1021.3L1384.2,1021.4L1386.2,1021.5L1388.2,1021.6L1390.2,1021.7L1392.2,1021.9L1394.2,1022.0L1396.2,1022.1L1398.2,1022.2L1400.2,1022.3L1402.2,1022.5L1404.2,1022.6L1406.2,1022.7L1408.2,1022.8L1410.2,1023.0L1412.2,1023.1L1414.2,1023.2L1416.2,1023.4L1418.2,1023.5L1420.2,1023.6L1422.2,1023.7L1424.2,1023.9L1426.2,1024.0L1428.2,1024.1L1430.2,1024.3L1432.2,1024.4L1434.2,1024.5L1436.1,1024.7L1438.1,1024.8L1440.1,1024.9L1442.1,1025.1L1444.1,1025.2L1446.1,1025.4L1448.1,1025.5L1450.1,1025.7L1452.1,1025.8L1454.1,1026.0L1456.1,1026.2L1458.1,1026.3L1460.1,1026.5L1462.1,1026.7L1464.1,1026.9L1466.1,1027.0L1468.0,1027.2L1470.0,1027.4L1472.0,1027.6L1474.0,1027.8L1476.0,1027.9L1478.0,1028.1L1480.0,1028.3" fill="none" stroke="#E8000B" stroke-width="3.2" stroke-linejoin="round" stroke-linecap="round"/>
<path d="M902.0,1026.0L904.0,1026.0L906.0,1026.0L908.0,1025.9L910.0,1025.9L912.0,1025.9L914.0,1025.9L916.0,1025.9L918.0,1025.9L920.0,1025.8L922.0,1025.8L924.0,1025.8L926.0,1025.8L928.0,1025.8L930.0,1025.7L932.0,1025.7L934.0,1025.7L936.0,1025.6L938.0,1025.6L940.0,1025.5L942.0,1025.4L944.0,1025.4L946.0,1025.3L948.0,1025.2L950.0,1025.2L952.0,1025.1L954.0,1025.0L956.0,1024.9L958.0,1024.9L960.0,1024.8L962.0,1024.6L964.0,1024.5L966.0,1024.4L968.0,1024.2L970.0,1024.0L972.0,1023.8L974.0,1023.6L975.9,1023.3L977.9,1022.9L979.9,1022.5L981.8,1022.1L983.8,1021.6L985.7,1021.1L987.6,1020.5L989.2,1019.5L990.0,1017.8L990.1,1015.8L990.2,1013.8L990.6,1011.9L991.4,1010.1L992.6,1008.5L994.0,1007.0L995.3,1005.5L996.6,1004.0L997.8,1002.4L998.9,1000.8L1000.0,999.1L1001.1,997.4L1002.1,995.7L1003.1,993.9L1004.0,992.2L1004.9,990.4L1005.8,988.6L1006.7,986.8L1007.5,985.0L1008.4,983.2L1009.2,981.3L1010.0,979.5L1010.9,977.7L1011.7,975.9L1012.5,974.1L1013.4,972.3L1014.2,970.4L1015.0,968.6L1015.9,966.8L1016.7,965.0L1017.5,963.1L1018.3,961.3L1019.1,959.5L1019.9,957.6L1020.7,955.8L1021.5,954.0L1022.4,952.2L1023.2,950.4L1024.1,948.6L1025.0,946.8L1025.9,945.0L1026.9,943.2L1027.9,941.5L1029.0,939.8L1030.1,938.2L1031.3,936.6L1032.6,935.1L1033.9,933.6L1035.4,932.2L1036.9,931.0L1038.6,929.9L1040.3,928.9L1042.1,928.1L1044.0,927.4L1046.0,927.1L1047.9,927.2L1049.8,927.8L1051.6,928.7L1053.3,929.8L1055.0,930.8L1056.7,931.9L1058.4,933.0L1060.1,934.1L1061.7,935.2L1063.4,936.3L1065.0,937.4L1066.7,938.5L1068.4,939.6L1070.1,940.7L1071.8,941.7L1073.5,942.8L1075.2,943.8L1077.0,944.7L1078.7,945.7L1080.5,946.6L1082.3,947.4L1084.2,948.2L1086.0,948.9L1087.9,949.5L1089.8,950.1L1091.8,950.5L1093.7,950.9L1095.7,951.3L1097.7,951.6L1099.7,951.9L1101.6,952.2L1103.6,952.5L1105.6,952.8L1107.6,953.1L1109.6,953.3L1111.6,953.6L1113.5,953.8L1115.5,954.0L1117.5,954.3L1119.5,954.5L1121.5,954.8L1123.5,955.1L1125.5,955.3L1127.4,955.6L1129.4,955.9L1131.4,956.2L1133.4,956.6L1135.3,956.9L1137.3,957.2L1139.3,957.6L1141.2,957.9L1143.2,958.3L1145.2,958.7L1147.1,959.1L1149.1,959.5L1151.0,959.9L1153.0,960.4L1154.9,960.9L1156.9,961.4L1158.8,961.9L1160.7,962.5L1162.6,963.1L1164.5,963.7L1166.4,964.3L1168.3,965.0L1170.2,965.7L1172.1,966.4L1173.9,967.1L1175.8,967.8L1177.7,968.5L1179.6,969.2L1181.4,970.0L1183.3,970.7L1185.1,971.5L1187.0,972.3L1188.8,973.1L1190.6,973.9L1192.4,974.7L1194.2,975.6L1196.0,976.4L1197.9,977.3L1199.7,978.1L1201.5,979.0L1203.3,979.8L1205.1,980.6L1207.0,981.4L1208.8,982.2L1210.7,982.9L1212.5,983.7L1214.4,984.4L1216.3,985.1L1218.2,985.8L1220.0,986.5L1221.9,987.1L1223.8,987.8L1225.7,988.4L1227.6,989.1L1229.5,989.7L1231.4,990.3L1233.3,990.9L1235.2,991.5L1237.1,992.1L1239.0,992.7L1241.0,993.3L1242.9,993.8L1244.8,994.4L1246.7,994.9L1248.7,995.4L1250.6,996.0L1252.5,996.5L1254.5,997.0L1256.4,997.5L1258.3,998.0L1260.3,998.5L1262.2,999.0L1264.1,999.5L1266.1,1000.0L1268.0,1000.5L1269.9,1001.1L1271.9,1001.6L1273.8,1002.1L1275.8,1002.6L1277.7,1003.1L1279.6,1003.6L1281.6,1004.1L1283.5,1004.5L1285.5,1005.0L1287.4,1005.4L1289.4,1005.8L1291.3,1006.3L1293.3,1006.7L1295.3,1007.0L1297.2,1007.4L1299.2,1007.8L1301.2,1008.1L1303.1,1008.5L1305.1,1008.8L1307.1,1009.1L1309.1,1009.5L1311.0,1009.8L1313.0,1010.1L1315.0,1010.4L1317.0,1010.7L1318.9,1011.0L1320.9,1011.3L1322.9,1011.6L1324.9,1011.9L1326.8,1012.2L1328.8,1012.5L1330.8,1012.8L1332.8,1013.1L1334.8,1013.4L1336.7,1013.7L1338.7,1013.9L1340.7,1014.2L1342.7,1014.5L1344.7,1014.7L1346.7,1015.0L1348.6,1015.3L1350.6,1015.5L1352.6,1015.8L1354.6,1016.0L1356.6,1016.2L1358.6,1016.5L1360.6,1016.7L1362.6,1016.9L1364.5,1017.1L1366.5,1017.4L1368.5,1017.6L1370.5,1017.8L1372.5,1017.9L1374.5,1018.1L1376.5,1018.3L1378.5,1018.5L1380.5,1018.7L1382.5,1018.8L1384.5,1019.0L1386.5,1019.1L1388.5,1019.3L1390.5,1019.4L1392.5,1019.6L1394.4,1019.7L1396.4,1019.9L1398.4,1020.0L1400.4,1020.2L1402.4,1020.3L1404.4,1020.5L1406.4,1020.6L1408.4,1020.8L1410.4,1020.9L1412.4,1021.1L1414.4,1021.2L1416.4,1021.3L1418.4,1021.5L1420.4,1021.6L1422.4,1021.7L1424.4,1021.9L1426.4,1022.0L1428.4,1022.1L1430.4,1022.3L1432.4,1022.4L1434.4,1022.5L1436.4,1022.6L1438.4,1022.8L1440.4,1022.9L1442.4,1023.0L1444.4,1023.2L1446.4,1023.3L1448.4,1023.4L1450.3,1023.6L1452.3,1023.7L1454.3,1023.8L1456.3,1023.9L1458.3,1024.1L1460.3,1024.2L1462.3,1024.3L1464.3,1024.5L1466.3,1024.6L1468.3,1024.7L1470.3,1024.9L1472.3,1025.0L1474.3,1025.1L1476.3,1025.2L1478.3,1025.4L1480.3,1025.5" fill="none" stroke="#2A5B8E" stroke-width="3.2" stroke-linejoin="round" stroke-linecap="round"/>
<path d="M902.0,1026.0L904.0,1026.0L906.0,1026.0L908.0,1025.9L910.0,1025.9L912.0,1025.9L914.0,1025.9L916.0,1025.8L918.0,1025.8L920.0,1025.8L922.0,1025.8L924.0,1025.7L926.0,1025.7L928.0,1025.7L930.0,1025.7L932.0,1025.6L934.0,1025.6L936.0,1025.6L938.1,1025.6L940.1,1025.6L942.1,1025.5L944.1,1025.5L946.1,1025.5L948.1,1025.5L950.1,1025.4L952.1,1025.4L954.1,1025.4L956.1,1025.4L958.1,1025.4L960.1,1025.3L962.1,1025.3L964.1,1025.3L966.1,1025.3L968.1,1025.3L970.1,1025.3L972.1,1025.3L974.1,1025.3L976.1,1025.3L978.1,1025.4L980.1,1025.4L982.1,1025.4L984.1,1025.4L986.1,1025.4L988.1,1025.4L990.1,1025.4L992.1,1025.3L994.1,1025.2L996.1,1025.2L998.1,1025.0L1000.1,1024.9L1002.1,1024.8L1004.1,1024.6L1006.1,1024.5L1008.1,1024.3L1010.1,1024.2L1012.1,1024.0L1014.1,1023.8L1016.1,1023.6L1018.1,1023.5L1020.1,1023.3L1022.1,1023.1L1024.1,1022.9L1026.1,1022.7L1028.1,1022.5L1030.1,1022.3L1032.1,1022.1L1034.0,1021.9L1036.0,1021.7L1038.0,1021.5L1040.0,1021.3L1042.0,1021.1L1044.0,1021.0L1046.0,1020.8L1048.0,1020.6L1050.0,1020.4L1052.0,1020.3L1054.0,1020.1L1056.0,1019.9L1058.0,1019.8L1060.0,1019.6L1062.0,1019.5L1064.0,1019.3L1066.0,1019.2L1068.0,1019.1L1070.0,1018.9L1072.0,1018.8L1074.0,1018.7L1076.0,1018.5L1078.0,1018.4L1080.0,1018.3L1082.0,1018.2L1084.0,1018.1L1086.0,1018.0L1088.0,1017.9L1090.0,1017.8L1092.0,1017.7L1094.0,1017.6L1096.0,1017.5L1098.0,1017.4L1100.0,1017.3L1102.0,1017.2L1104.0,1017.1L1106.0,1017.0L1108.0,1016.9L1110.0,1016.9L1112.0,1016.8L1114.0,1016.7L1116.0,1016.6L1118.0,1016.5L1120.0,1016.4L1122.0,1016.4L1124.0,1016.3L1126.0,1016.2L1128.0,1016.1L1130.0,1016.0L1132.0,1015.9L1134.0,1015.8L1136.0,1015.7L1138.0,1015.6L1140.0,1015.5L1142.0,1015.4L1144.0,1015.3L1146.0,1015.2L1148.0,1015.0L1150.0,1014.9L1152.0,1014.8L1154.0,1014.7L1156.0,1014.6L1158.0,1014.5L1160.0,1014.4L1162.0,1014.3L1164.0,1014.2L1166.0,1014.2L1168.0,1014.1L1170.0,1014.0L1172.0,1013.9L1174.0,1013.9L1176.0,1013.8L1178.0,1013.8L1180.0,1013.7L1182.0,1013.7L1184.0,1013.6L1186.0,1013.6L1188.0,1013.5L1190.0,1013.5L1192.0,1013.5L1194.0,1013.4L1196.0,1013.4L1198.0,1013.4L1200.0,1013.3L1202.0,1013.3L1204.0,1013.3L1206.1,1013.3L1208.1,1013.3L1210.1,1013.3L1212.1,1013.3L1214.1,1013.3L1216.1,1013.3L1218.1,1013.3L1220.1,1013.3L1222.1,1013.3L1224.1,1013.4L1226.1,1013.4L1228.1,1013.4L1230.1,1013.4L1232.1,1013.5L1234.1,1013.5L1236.1,1013.6L1238.1,1013.6L1240.1,1013.7L1242.1,1013.7L1244.1,1013.8L1246.1,1013.9L1248.1,1013.9L1250.1,1014.0L1252.1,1014.1L1254.1,1014.2L1256.1,1014.3L1258.1,1014.4L1260.1,1014.5L1262.1,1014.7L1264.1,1014.8L1266.1,1014.9L1268.1,1015.1L1270.1,1015.2L1272.1,1015.4L1274.1,1015.5L1276.1,1015.7L1278.1,1015.8L1280.1,1016.0L1282.1,1016.1L1284.1,1016.3L1286.1,1016.4L1288.1,1016.6L1290.1,1016.7L1292.1,1016.9L1294.1,1017.0L1296.1,1017.2L1298.1,1017.3L1300.1,1017.5L1302.1,1017.6L1304.1,1017.8L1306.1,1018.0L1308.1,1018.1L1310.0,1018.3L1312.0,1018.4L1314.0,1018.6L1316.0,1018.7L1318.0,1018.9L1320.0,1019.1L1322.0,1019.2L1324.0,1019.3L1326.0,1019.5L1328.0,1019.6L1330.0,1019.8L1332.0,1019.9L1334.0,1020.0L1336.0,1020.2L1338.0,1020.3L1340.0,1020.4L1342.0,1020.6L1344.0,1020.7L1346.0,1020.8L1348.0,1021.0L1350.0,1021.1L1352.0,1021.2L1354.0,1021.3L1356.0,1021.5L1358.0,1021.6L1360.0,1021.7L1362.0,1021.9L1364.0,1022.0L1366.0,1022.1L1368.0,1022.3L1370.0,1022.4L1372.0,1022.5L1374.0,1022.7L1376.0,1022.8L1378.0,1023.0L1380.0,1023.1L1382.0,1023.2L1384.0,1023.4L1386.0,1023.5L1388.0,1023.6L1390.0,1023.8L1392.0,1023.9L1394.0,1024.0L1396.0,1024.2L1398.0,1024.3L1400.0,1024.4L1402.0,1024.6L1404.0,1024.7L1406.0,1024.8L1408.0,1024.9L1410.0,1025.0L1412.0,1025.1L1414.0,1025.2L1416.0,1025.3L1418.0,1025.5L1420.0,1025.6L1422.0,1025.7L1424.0,1025.8L1426.0,1025.9L1428.0,1026.0L1430.0,1026.1L1432.0,1026.1L1434.0,1026.2L1436.0,1026.3L1438.0,1026.4L1440.0,1026.5L1442.0,1026.6L1444.0,1026.7L1446.0,1026.8L1448.0,1026.9L1450.0,1027.0L1452.0,1027.1L1454.0,1027.2L1456.0,1027.3L1458.0,1027.4L1460.0,1027.4L1462.0,1027.5L1464.0,1027.6L1466.0,1027.7L1468.0,1027.8L1470.0,1027.9L1472.0,1028.0L1474.0,1028.0L1476.0,1028.1L1478.0,1028.2L1480.0,1028.3" fill="none" stroke="#F2BA1A" stroke-width="3.2" stroke-linejoin="round" stroke-linecap="round"/>
</svg>
</body></html>
